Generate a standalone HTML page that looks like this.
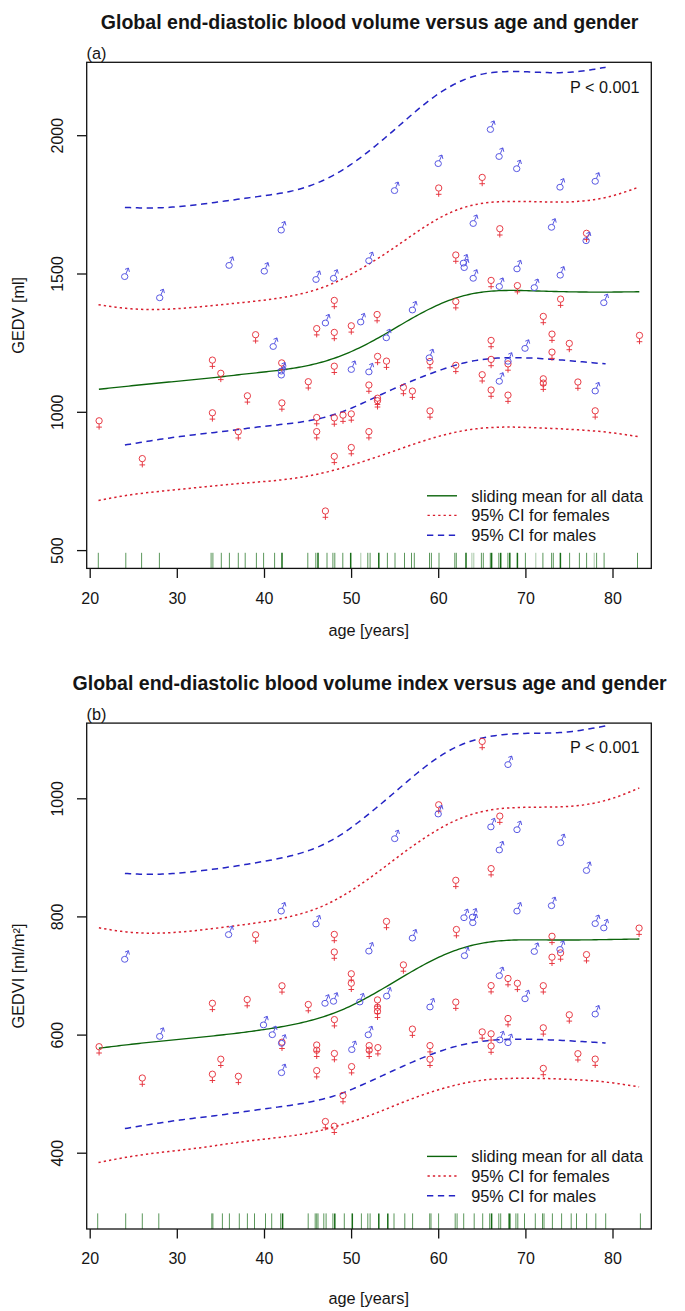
<!DOCTYPE html>
<html><head><meta charset="utf-8"><title>GEDV versus age and gender</title>
<style>
html,body{margin:0;padding:0;background:#fff;}
body{width:685px;height:1311px;overflow:hidden;}
svg{display:block;}
text{font-family:"Liberation Sans",sans-serif;fill:#151515;}
.title{font-weight:bold;font-size:19.56px;}
.lab{font-size:16.3px;}
.pv{font-size:16.2px;}
.tick{font-size:16px;}
.ax{stroke:#111;stroke-width:1.3;fill:none;}
</style></head>
<body>
<svg width="685" height="1311" viewBox="0 0 685 1311">
<rect width="685" height="1311" fill="#fff"/>
<text x="369.6" y="29.1" class="title" text-anchor="middle">Global end-diastolic blood volume versus age and gender</text>
<text x="86.6" y="59.3" class="lab">(a)</text>
<text x="570.0" y="92.5" class="pv">P &lt; 0.001</text>
<text transform="translate(24.4,315.3) rotate(-90)" class="lab" text-anchor="middle">GEDV [ml]</text>
<line x1="90.2" y1="568.4" x2="90.2" y2="577.9" class="ax"/>
<text x="90.2" y="603.5" class="tick" text-anchor="middle">20</text>
<line x1="177.3" y1="568.4" x2="177.3" y2="577.9" class="ax"/>
<text x="177.3" y="603.5" class="tick" text-anchor="middle">30</text>
<line x1="264.5" y1="568.4" x2="264.5" y2="577.9" class="ax"/>
<text x="264.5" y="603.5" class="tick" text-anchor="middle">40</text>
<line x1="351.6" y1="568.4" x2="351.6" y2="577.9" class="ax"/>
<text x="351.6" y="603.5" class="tick" text-anchor="middle">50</text>
<line x1="438.7" y1="568.4" x2="438.7" y2="577.9" class="ax"/>
<text x="438.7" y="603.5" class="tick" text-anchor="middle">60</text>
<line x1="525.9" y1="568.4" x2="525.9" y2="577.9" class="ax"/>
<text x="525.9" y="603.5" class="tick" text-anchor="middle">70</text>
<line x1="613.0" y1="568.4" x2="613.0" y2="577.9" class="ax"/>
<text x="613.0" y="603.5" class="tick" text-anchor="middle">80</text>
<text x="368.7" y="635.7" class="lab" text-anchor="middle">age [years]</text>
<line x1="86.7" y1="550.6" x2="77.0" y2="550.6" class="ax"/>
<text transform="translate(63.4,550.6) rotate(-90)" class="tick" text-anchor="middle">500</text>
<line x1="86.7" y1="412.3" x2="77.0" y2="412.3" class="ax"/>
<text transform="translate(63.4,412.3) rotate(-90)" class="tick" text-anchor="middle">1000</text>
<line x1="86.7" y1="274.0" x2="77.0" y2="274.0" class="ax"/>
<text transform="translate(63.4,274.0) rotate(-90)" class="tick" text-anchor="middle">1500</text>
<line x1="86.7" y1="135.7" x2="77.0" y2="135.7" class="ax"/>
<text transform="translate(63.4,135.7) rotate(-90)" class="tick" text-anchor="middle">2000</text>
<line x1="98.3" y1="552.8" x2="98.3" y2="568.4" stroke="#0b640b" stroke-width="0.9" stroke-opacity="0.75"/>
<line x1="125.8" y1="552.8" x2="125.8" y2="568.4" stroke="#0b640b" stroke-width="0.9" stroke-opacity="0.75"/>
<line x1="141.6" y1="552.8" x2="141.6" y2="568.4" stroke="#0b640b" stroke-width="0.9" stroke-opacity="0.75"/>
<line x1="159.4" y1="552.8" x2="159.4" y2="568.4" stroke="#0b640b" stroke-width="0.9" stroke-opacity="0.75"/>
<line x1="211.1" y1="552.8" x2="211.1" y2="568.4" stroke="#0b640b" stroke-width="0.9" stroke-opacity="0.75"/>
<line x1="212.9" y1="552.8" x2="212.9" y2="568.4" stroke="#0b640b" stroke-width="0.9" stroke-opacity="0.75"/>
<line x1="221.3" y1="552.8" x2="221.3" y2="568.4" stroke="#0b640b" stroke-width="0.9" stroke-opacity="0.75"/>
<line x1="229.4" y1="552.8" x2="229.4" y2="568.4" stroke="#0b640b" stroke-width="0.9" stroke-opacity="0.75"/>
<line x1="238.3" y1="552.8" x2="238.3" y2="568.4" stroke="#0b640b" stroke-width="0.9" stroke-opacity="0.75"/>
<line x1="245.2" y1="552.8" x2="245.2" y2="568.4" stroke="#0b640b" stroke-width="0.9" stroke-opacity="0.75"/>
<line x1="256.4" y1="552.8" x2="256.4" y2="568.4" stroke="#0b640b" stroke-width="0.9" stroke-opacity="0.75"/>
<line x1="263.6" y1="552.8" x2="263.6" y2="568.4" stroke="#0b640b" stroke-width="0.9" stroke-opacity="0.75"/>
<line x1="274.6" y1="552.8" x2="274.6" y2="568.4" stroke="#0b640b" stroke-width="0.9" stroke-opacity="0.75"/>
<line x1="282.0" y1="552.8" x2="282.0" y2="568.4" stroke="#0b640b" stroke-width="1.5" stroke-opacity="0.95"/>
<line x1="307.8" y1="552.8" x2="307.8" y2="568.4" stroke="#0b640b" stroke-width="0.9" stroke-opacity="0.75"/>
<line x1="315.8" y1="552.8" x2="315.8" y2="568.4" stroke="#0b640b" stroke-width="0.9" stroke-opacity="0.75"/>
<line x1="318.0" y1="552.8" x2="318.0" y2="568.4" stroke="#0b640b" stroke-width="1.5" stroke-opacity="0.95"/>
<line x1="327.0" y1="552.8" x2="327.0" y2="568.4" stroke="#0b640b" stroke-width="0.9" stroke-opacity="0.75"/>
<line x1="332.9" y1="552.8" x2="332.9" y2="568.4" stroke="#0b640b" stroke-width="0.9" stroke-opacity="0.75"/>
<line x1="334.8" y1="552.8" x2="334.8" y2="568.4" stroke="#0b640b" stroke-width="0.9" stroke-opacity="0.75"/>
<line x1="342.8" y1="552.8" x2="342.8" y2="568.4" stroke="#0b640b" stroke-width="0.9" stroke-opacity="0.75"/>
<line x1="350.7" y1="552.8" x2="350.7" y2="568.4" stroke="#0b640b" stroke-width="1.5" stroke-opacity="0.95"/>
<line x1="360.8" y1="552.8" x2="360.8" y2="568.4" stroke="#0b640b" stroke-width="0.9" stroke-opacity="0.40"/>
<line x1="367.8" y1="552.8" x2="367.8" y2="568.4" stroke="#0b640b" stroke-width="0.9" stroke-opacity="0.75"/>
<line x1="370.1" y1="552.8" x2="370.1" y2="568.4" stroke="#0b640b" stroke-width="0.9" stroke-opacity="0.75"/>
<line x1="378.8" y1="552.8" x2="378.8" y2="568.4" stroke="#0b640b" stroke-width="1.5" stroke-opacity="0.95"/>
<line x1="387.4" y1="552.8" x2="387.4" y2="568.4" stroke="#0b640b" stroke-width="0.9" stroke-opacity="0.75"/>
<line x1="395.0" y1="552.8" x2="395.0" y2="568.4" stroke="#0b640b" stroke-width="0.9" stroke-opacity="0.75"/>
<line x1="404.5" y1="552.8" x2="404.5" y2="568.4" stroke="#0b640b" stroke-width="0.9" stroke-opacity="0.75"/>
<line x1="411.5" y1="552.8" x2="411.5" y2="568.4" stroke="#0b640b" stroke-width="0.9" stroke-opacity="0.75"/>
<line x1="414.3" y1="552.8" x2="414.3" y2="568.4" stroke="#0b640b" stroke-width="0.9" stroke-opacity="0.75"/>
<line x1="429.5" y1="552.8" x2="429.5" y2="568.4" stroke="#0b640b" stroke-width="0.9" stroke-opacity="0.75"/>
<line x1="431.4" y1="552.8" x2="431.4" y2="568.4" stroke="#0b640b" stroke-width="0.9" stroke-opacity="0.75"/>
<line x1="439.0" y1="552.8" x2="439.0" y2="568.4" stroke="#0b640b" stroke-width="0.9" stroke-opacity="0.75"/>
<line x1="454.8" y1="552.8" x2="454.8" y2="568.4" stroke="#0b640b" stroke-width="0.9" stroke-opacity="0.75"/>
<line x1="456.3" y1="552.8" x2="456.3" y2="568.4" stroke="#0b640b" stroke-width="0.9" stroke-opacity="0.75"/>
<line x1="466.0" y1="552.8" x2="466.0" y2="568.4" stroke="#0b640b" stroke-width="1.5" stroke-opacity="0.95"/>
<line x1="471.9" y1="552.8" x2="471.9" y2="568.4" stroke="#0b640b" stroke-width="0.9" stroke-opacity="0.40"/>
<line x1="473.8" y1="552.8" x2="473.8" y2="568.4" stroke="#0b640b" stroke-width="0.9" stroke-opacity="0.40"/>
<line x1="481.4" y1="552.8" x2="481.4" y2="568.4" stroke="#0b640b" stroke-width="0.9" stroke-opacity="0.75"/>
<line x1="483.3" y1="552.8" x2="483.3" y2="568.4" stroke="#0b640b" stroke-width="0.9" stroke-opacity="0.75"/>
<line x1="490.3" y1="552.8" x2="490.3" y2="568.4" stroke="#0b640b" stroke-width="0.9" stroke-opacity="0.75"/>
<line x1="491.6" y1="552.8" x2="491.6" y2="568.4" stroke="#0b640b" stroke-width="1.5" stroke-opacity="0.95"/>
<line x1="498.8" y1="552.8" x2="498.8" y2="568.4" stroke="#0b640b" stroke-width="0.9" stroke-opacity="0.75"/>
<line x1="500.7" y1="552.8" x2="500.7" y2="568.4" stroke="#0b640b" stroke-width="1.5" stroke-opacity="0.95"/>
<line x1="507.9" y1="552.8" x2="507.9" y2="568.4" stroke="#0b640b" stroke-width="0.9" stroke-opacity="0.75"/>
<line x1="509.8" y1="552.8" x2="509.8" y2="568.4" stroke="#0b640b" stroke-width="1.5" stroke-opacity="0.95"/>
<line x1="517.4" y1="552.8" x2="517.4" y2="568.4" stroke="#0b640b" stroke-width="1.5" stroke-opacity="0.95"/>
<line x1="525.4" y1="552.8" x2="525.4" y2="568.4" stroke="#0b640b" stroke-width="0.9" stroke-opacity="0.75"/>
<line x1="535.8" y1="552.8" x2="535.8" y2="568.4" stroke="#0b640b" stroke-width="0.9" stroke-opacity="0.40"/>
<line x1="542.9" y1="552.8" x2="542.9" y2="568.4" stroke="#0b640b" stroke-width="0.9" stroke-opacity="0.75"/>
<line x1="551.6" y1="552.8" x2="551.6" y2="568.4" stroke="#0b640b" stroke-width="0.9" stroke-opacity="0.75"/>
<line x1="553.3" y1="552.8" x2="553.3" y2="568.4" stroke="#0b640b" stroke-width="0.9" stroke-opacity="0.75"/>
<line x1="560.4" y1="552.8" x2="560.4" y2="568.4" stroke="#0b640b" stroke-width="1.5" stroke-opacity="0.95"/>
<line x1="569.6" y1="552.8" x2="569.6" y2="568.4" stroke="#0b640b" stroke-width="0.9" stroke-opacity="0.75"/>
<line x1="579.4" y1="552.8" x2="579.4" y2="568.4" stroke="#0b640b" stroke-width="0.9" stroke-opacity="0.75"/>
<line x1="586.6" y1="552.8" x2="586.6" y2="568.4" stroke="#0b640b" stroke-width="0.9" stroke-opacity="0.75"/>
<line x1="594.2" y1="552.8" x2="594.2" y2="568.4" stroke="#0b640b" stroke-width="0.9" stroke-opacity="0.40"/>
<line x1="596.6" y1="552.8" x2="596.6" y2="568.4" stroke="#0b640b" stroke-width="0.9" stroke-opacity="0.75"/>
<line x1="604.1" y1="552.8" x2="604.1" y2="568.4" stroke="#0b640b" stroke-width="0.9" stroke-opacity="0.75"/>
<line x1="637.5" y1="552.8" x2="637.5" y2="568.4" stroke="#0b640b" stroke-width="0.9" stroke-opacity="0.75"/>
<g fill="none" stroke-width="1.5">
<path d="M98.5,304.75 L101.0,305.13 L103.5,305.51 L106.0,305.88 L108.5,306.25 L111.0,306.60 L113.5,306.94 L116.0,307.26 L118.5,307.56 L121.0,307.85 L123.5,308.12 L126.0,308.36 L128.5,308.58 L131.0,308.79 L133.5,308.96 L136.0,309.11 L138.5,309.24 L141.0,309.35 L143.5,309.43 L146.0,309.49 L148.5,309.53 L151.0,309.55 L153.5,309.55 L156.0,309.52 L158.5,309.48 L161.0,309.42 L163.5,309.34 L166.0,309.25 L168.5,309.14 L171.0,309.01 L173.5,308.87 L176.0,308.72 L178.5,308.56 L181.0,308.39 L183.5,308.21 L186.0,308.02 L188.5,307.82 L191.0,307.61 L193.5,307.40 L196.0,307.18 L198.5,306.95 L201.0,306.72 L203.5,306.49 L206.0,306.25 L208.5,306.00 L211.0,305.75 L213.5,305.50 L216.0,305.24 L218.5,304.99 L221.0,304.73 L223.5,304.47 L226.0,304.20 L228.5,303.95 L231.0,303.69 L233.5,303.43 L236.0,303.17 L238.5,302.92 L241.0,302.66 L243.5,302.40 L246.0,302.14 L248.5,301.89 L251.0,301.62 L253.5,301.36 L256.0,301.09 L258.5,300.81 L261.0,300.52 L263.5,300.22 L266.0,299.91 L268.5,299.59 L271.0,299.25 L273.5,298.90 L276.0,298.53 L278.5,298.15 L281.0,297.75 L283.5,297.34 L286.0,296.90 L288.5,296.44 L291.0,295.97 L293.5,295.47 L296.0,294.95 L298.5,294.41 L301.0,293.84 L303.5,293.25 L306.0,292.62 L308.5,291.96 L311.0,291.27 L313.5,290.54 L316.0,289.77 L318.5,288.96 L321.0,288.11 L323.5,287.21 L326.0,286.26 L328.5,285.26 L331.0,284.21 L333.5,283.12 L336.0,281.99 L338.5,280.82 L341.0,279.61 L343.5,278.36 L346.0,277.08 L348.5,275.77 L351.0,274.42 L353.5,273.05 L356.0,271.65 L358.5,270.23 L361.0,268.78 L363.5,267.31 L366.0,265.82 L368.5,264.30 L371.0,262.77 L373.5,261.21 L376.0,259.64 L378.5,258.04 L381.0,256.43 L383.5,254.79 L386.0,253.15 L388.5,251.48 L391.0,249.80 L393.5,248.11 L396.0,246.40 L398.5,244.69 L401.0,242.96 L403.5,241.24 L406.0,239.51 L408.5,237.78 L411.0,236.06 L413.5,234.35 L416.0,232.66 L418.5,230.97 L421.0,229.31 L423.5,227.67 L426.0,226.06 L428.5,224.48 L431.0,222.93 L433.5,221.42 L436.0,219.96 L438.5,218.54 L441.0,217.18 L443.5,215.87 L446.0,214.62 L448.5,213.43 L451.0,212.31 L453.5,211.24 L456.0,210.24 L458.5,209.30 L461.0,208.43 L463.5,207.62 L466.0,206.87 L468.5,206.18 L471.0,205.55 L473.5,204.98 L476.0,204.46 L478.5,203.99 L481.0,203.57 L483.5,203.20 L486.0,202.87 L488.5,202.58 L491.0,202.33 L493.5,202.11 L496.0,201.93 L498.5,201.78 L501.0,201.65 L503.5,201.55 L506.0,201.48 L508.5,201.42 L511.0,201.39 L513.5,201.38 L516.0,201.38 L518.5,201.39 L521.0,201.42 L523.5,201.46 L526.0,201.50 L528.5,201.55 L531.0,201.61 L533.5,201.66 L536.0,201.72 L538.5,201.78 L541.0,201.84 L543.5,201.89 L546.0,201.94 L548.5,201.98 L551.0,202.01 L553.5,202.04 L556.0,202.05 L558.5,202.05 L561.0,202.03 L563.5,202.00 L566.0,201.95 L568.5,201.88 L571.0,201.78 L573.5,201.67 L576.0,201.53 L578.5,201.36 L581.0,201.17 L583.5,200.95 L586.0,200.70 L588.5,200.41 L591.0,200.09 L593.5,199.74 L596.0,199.35 L598.5,198.92 L601.0,198.46 L603.5,197.95 L606.0,197.41 L608.5,196.82 L611.0,196.19 L613.5,195.52 L616.0,194.82 L618.5,194.08 L621.0,193.30 L623.5,192.50 L626.0,191.66 L628.5,190.80 L631.0,189.92 L633.5,189.03 L636.0,188.13 L638.5,187.21 L639.1,187.00" stroke="#d81e2e" stroke-dasharray="2.3 3.05"/>
<path d="M98.5,500.55 L101.0,500.04 L103.5,499.53 L106.0,499.04 L108.5,498.54 L111.0,498.07 L113.5,497.60 L116.0,497.15 L118.5,496.71 L121.0,496.29 L123.5,495.89 L126.0,495.50 L128.5,495.12 L131.0,494.76 L133.5,494.41 L136.0,494.07 L138.5,493.75 L141.0,493.43 L143.5,493.13 L146.0,492.83 L148.5,492.54 L151.0,492.26 L153.5,491.98 L156.0,491.71 L158.5,491.44 L161.0,491.18 L163.5,490.92 L166.0,490.66 L168.5,490.40 L171.0,490.15 L173.5,489.90 L176.0,489.65 L178.5,489.40 L181.0,489.15 L183.5,488.90 L186.0,488.65 L188.5,488.41 L191.0,488.16 L193.5,487.91 L196.0,487.67 L198.5,487.42 L201.0,487.17 L203.5,486.93 L206.0,486.68 L208.5,486.43 L211.0,486.18 L213.5,485.94 L216.0,485.69 L218.5,485.44 L221.0,485.20 L223.5,484.96 L226.0,484.72 L228.5,484.49 L231.0,484.26 L233.5,484.04 L236.0,483.82 L238.5,483.61 L241.0,483.40 L243.5,483.19 L246.0,482.99 L248.5,482.79 L251.0,482.59 L253.5,482.39 L256.0,482.18 L258.5,481.98 L261.0,481.78 L263.5,481.57 L266.0,481.36 L268.5,481.14 L271.0,480.92 L273.5,480.68 L276.0,480.44 L278.5,480.19 L281.0,479.92 L283.5,479.64 L286.0,479.35 L288.5,479.04 L291.0,478.72 L293.5,478.38 L296.0,478.03 L298.5,477.65 L301.0,477.26 L303.5,476.86 L306.0,476.43 L308.5,475.98 L311.0,475.51 L313.5,475.02 L316.0,474.51 L318.5,473.98 L321.0,473.42 L323.5,472.84 L326.0,472.25 L328.5,471.63 L331.0,470.99 L333.5,470.33 L336.0,469.66 L338.5,468.97 L341.0,468.26 L343.5,467.54 L346.0,466.81 L348.5,466.06 L351.0,465.31 L353.5,464.54 L356.0,463.76 L358.5,462.97 L361.0,462.18 L363.5,461.37 L366.0,460.56 L368.5,459.74 L371.0,458.92 L373.5,458.08 L376.0,457.24 L378.5,456.39 L381.0,455.54 L383.5,454.68 L386.0,453.81 L388.5,452.94 L391.0,452.07 L393.5,451.19 L396.0,450.31 L398.5,449.43 L401.0,448.56 L403.5,447.68 L406.0,446.81 L408.5,445.94 L411.0,445.08 L413.5,444.23 L416.0,443.39 L418.5,442.55 L421.0,441.73 L423.5,440.92 L426.0,440.13 L428.5,439.35 L431.0,438.58 L433.5,437.84 L436.0,437.11 L438.5,436.40 L441.0,435.72 L443.5,435.05 L446.0,434.42 L448.5,433.80 L451.0,433.21 L453.5,432.65 L456.0,432.11 L458.5,431.60 L461.0,431.12 L463.5,430.67 L466.0,430.25 L468.5,429.85 L471.0,429.48 L473.5,429.14 L476.0,428.83 L478.5,428.54 L481.0,428.29 L483.5,428.05 L486.0,427.85 L488.5,427.67 L491.0,427.52 L493.5,427.39 L496.0,427.29 L498.5,427.21 L501.0,427.15 L503.5,427.11 L506.0,427.09 L508.5,427.08 L511.0,427.10 L513.5,427.12 L516.0,427.16 L518.5,427.21 L521.0,427.27 L523.5,427.34 L526.0,427.41 L528.5,427.50 L531.0,427.58 L533.5,427.67 L536.0,427.76 L538.5,427.86 L541.0,427.96 L543.5,428.07 L546.0,428.17 L548.5,428.28 L551.0,428.39 L553.5,428.51 L556.0,428.62 L558.5,428.74 L561.0,428.87 L563.5,428.99 L566.0,429.12 L568.5,429.26 L571.0,429.40 L573.5,429.54 L576.0,429.69 L578.5,429.84 L581.0,430.00 L583.5,430.17 L586.0,430.35 L588.5,430.53 L591.0,430.73 L593.5,430.93 L596.0,431.15 L598.5,431.37 L601.0,431.61 L603.5,431.86 L606.0,432.13 L608.5,432.41 L611.0,432.71 L613.5,433.02 L616.0,433.34 L618.5,433.68 L621.0,434.03 L623.5,434.39 L626.0,434.75 L628.5,435.12 L631.0,435.50 L633.5,435.88 L636.0,436.26 L638.5,436.64 L639.1,436.74" stroke="#d81e2e" stroke-dasharray="2.3 3.05"/>
<path d="M124.9,207.41 L127.4,207.50 L129.9,207.59 L132.4,207.68 L134.9,207.76 L137.4,207.83 L139.9,207.89 L142.4,207.93 L144.9,207.96 L147.4,207.98 L149.9,207.98 L152.4,207.96 L154.9,207.92 L157.4,207.86 L159.9,207.79 L162.4,207.69 L164.9,207.58 L167.4,207.45 L169.9,207.29 L172.4,207.12 L174.9,206.94 L177.4,206.74 L179.9,206.52 L182.4,206.28 L184.9,206.04 L187.4,205.78 L189.9,205.50 L192.4,205.22 L194.9,204.93 L197.4,204.63 L199.9,204.33 L202.4,204.01 L204.9,203.70 L207.4,203.38 L209.9,203.05 L212.4,202.73 L214.9,202.40 L217.4,202.07 L219.9,201.73 L222.4,201.40 L224.9,201.06 L227.4,200.72 L229.9,200.37 L232.4,200.03 L234.9,199.68 L237.4,199.34 L239.9,198.99 L242.4,198.65 L244.9,198.30 L247.4,197.96 L249.9,197.62 L252.4,197.28 L254.9,196.95 L257.4,196.62 L259.9,196.29 L262.4,195.95 L264.9,195.62 L267.4,195.27 L269.9,194.92 L272.4,194.55 L274.9,194.17 L277.4,193.78 L279.9,193.36 L282.4,192.92 L284.9,192.45 L287.4,191.96 L289.9,191.43 L292.4,190.87 L294.9,190.27 L297.4,189.64 L299.9,188.96 L302.4,188.24 L304.9,187.47 L307.4,186.65 L309.9,185.79 L312.4,184.87 L314.9,183.91 L317.4,182.90 L319.9,181.84 L322.4,180.73 L324.9,179.57 L327.4,178.36 L329.9,177.10 L332.4,175.79 L334.9,174.44 L337.4,173.03 L339.9,171.57 L342.4,170.06 L344.9,168.49 L347.4,166.88 L349.9,165.21 L352.4,163.50 L354.9,161.73 L357.4,159.92 L359.9,158.07 L362.4,156.18 L364.9,154.26 L367.4,152.32 L369.9,150.35 L372.4,148.35 L374.9,146.33 L377.4,144.28 L379.9,142.22 L382.4,140.12 L384.9,138.01 L387.4,135.88 L389.9,133.74 L392.4,131.57 L394.9,129.40 L397.4,127.22 L399.9,125.03 L402.4,122.84 L404.9,120.65 L407.4,118.47 L409.9,116.30 L412.4,114.15 L414.9,112.02 L417.4,109.91 L419.9,107.84 L422.4,105.80 L424.9,103.80 L427.4,101.84 L429.9,99.93 L432.4,98.07 L434.9,96.26 L437.4,94.51 L439.9,92.81 L442.4,91.18 L444.9,89.60 L447.4,88.09 L449.9,86.65 L452.4,85.27 L454.9,83.96 L457.4,82.73 L459.9,81.56 L462.4,80.45 L464.9,79.42 L467.4,78.46 L469.9,77.57 L472.4,76.74 L474.9,75.99 L477.4,75.30 L479.9,74.68 L482.4,74.12 L484.9,73.63 L487.4,73.21 L489.9,72.84 L492.4,72.52 L494.9,72.26 L497.4,72.04 L499.9,71.87 L502.4,71.74 L504.9,71.64 L507.4,71.57 L509.9,71.53 L512.4,71.52 L514.9,71.54 L517.4,71.57 L519.9,71.62 L522.4,71.69 L524.9,71.77 L527.4,71.86 L529.9,71.96 L532.4,72.06 L534.9,72.16 L537.4,72.26 L539.9,72.36 L542.4,72.45 L544.9,72.52 L547.4,72.59 L549.9,72.64 L552.4,72.67 L554.9,72.68 L557.4,72.67 L559.9,72.64 L562.4,72.58 L564.9,72.49 L567.4,72.38 L569.9,72.23 L572.4,72.04 L574.9,71.83 L577.4,71.59 L579.9,71.31 L582.4,71.01 L584.9,70.69 L587.4,70.34 L589.9,69.97 L592.4,69.57 L594.9,69.16 L597.4,68.73 L599.9,68.29 L602.4,67.84 L604.9,67.39 L605.6,67.26" stroke="#2424c4" stroke-dasharray="6.3 4.6"/>
<path d="M124.9,445.00 L127.4,444.58 L129.9,444.15 L132.4,443.73 L134.9,443.31 L137.4,442.90 L139.9,442.49 L142.4,442.08 L144.9,441.68 L147.4,441.28 L149.9,440.89 L152.4,440.50 L154.9,440.11 L157.4,439.73 L159.9,439.36 L162.4,438.99 L164.9,438.63 L167.4,438.27 L169.9,437.92 L172.4,437.57 L174.9,437.23 L177.4,436.90 L179.9,436.57 L182.4,436.25 L184.9,435.93 L187.4,435.62 L189.9,435.31 L192.4,435.01 L194.9,434.71 L197.4,434.42 L199.9,434.12 L202.4,433.83 L204.9,433.54 L207.4,433.26 L209.9,432.97 L212.4,432.67 L214.9,432.38 L217.4,432.09 L219.9,431.79 L222.4,431.49 L224.9,431.19 L227.4,430.89 L229.9,430.58 L232.4,430.27 L234.9,429.95 L237.4,429.63 L239.9,429.31 L242.4,428.99 L244.9,428.67 L247.4,428.34 L249.9,428.02 L252.4,427.71 L254.9,427.40 L257.4,427.10 L259.9,426.81 L262.4,426.52 L264.9,426.24 L267.4,425.97 L269.9,425.69 L272.4,425.42 L274.9,425.15 L277.4,424.88 L279.9,424.61 L282.4,424.33 L284.9,424.05 L287.4,423.77 L289.9,423.47 L292.4,423.17 L294.9,422.85 L297.4,422.52 L299.9,422.17 L302.4,421.81 L304.9,421.41 L307.4,421.00 L309.9,420.55 L312.4,420.08 L314.9,419.58 L317.4,419.04 L319.9,418.48 L322.4,417.87 L324.9,417.23 L327.4,416.56 L329.9,415.84 L332.4,415.09 L334.9,414.30 L337.4,413.47 L339.9,412.60 L342.4,411.70 L344.9,410.75 L347.4,409.78 L349.9,408.76 L352.4,407.72 L354.9,406.65 L357.4,405.55 L359.9,404.43 L362.4,403.28 L364.9,402.13 L367.4,400.97 L369.9,399.80 L372.4,398.63 L374.9,397.46 L377.4,396.30 L379.9,395.13 L382.4,393.98 L384.9,392.82 L387.4,391.68 L389.9,390.55 L392.4,389.42 L394.9,388.30 L397.4,387.20 L399.9,386.10 L402.4,385.01 L404.9,383.93 L407.4,382.87 L409.9,381.81 L412.4,380.77 L414.9,379.74 L417.4,378.72 L419.9,377.72 L422.4,376.74 L424.9,375.77 L427.4,374.82 L429.9,373.88 L432.4,372.96 L434.9,372.05 L437.4,371.15 L439.9,370.27 L442.4,369.41 L444.9,368.56 L447.4,367.74 L449.9,366.93 L452.4,366.15 L454.9,365.40 L457.4,364.68 L459.9,363.98 L462.4,363.32 L464.9,362.70 L467.4,362.12 L469.9,361.58 L472.4,361.08 L474.9,360.62 L477.4,360.19 L479.9,359.81 L482.4,359.46 L484.9,359.15 L487.4,358.88 L489.9,358.63 L492.4,358.42 L494.9,358.24 L497.4,358.09 L499.9,357.96 L502.4,357.86 L504.9,357.78 L507.4,357.72 L509.9,357.68 L512.4,357.66 L514.9,357.67 L517.4,357.68 L519.9,357.72 L522.4,357.77 L524.9,357.84 L527.4,357.92 L529.9,358.01 L532.4,358.12 L534.9,358.23 L537.4,358.36 L539.9,358.50 L542.4,358.65 L544.9,358.80 L547.4,358.97 L549.9,359.14 L552.4,359.32 L554.9,359.51 L557.4,359.70 L559.9,359.89 L562.4,360.10 L564.9,360.30 L567.4,360.51 L569.9,360.72 L572.4,360.94 L574.9,361.16 L577.4,361.37 L579.9,361.59 L582.4,361.81 L584.9,362.04 L587.4,362.26 L589.9,362.48 L592.4,362.69 L594.9,362.91 L597.4,363.13 L599.9,363.34 L602.4,363.56 L604.9,363.77 L605.6,363.83" stroke="#2424c4" stroke-dasharray="6.3 4.6"/>
<path d="M98.9,389.28 L101.4,389.01 L103.9,388.73 L106.4,388.46 L108.9,388.19 L111.4,387.92 L113.9,387.65 L116.4,387.38 L118.9,387.11 L121.4,386.84 L123.9,386.57 L126.4,386.31 L128.9,386.05 L131.4,385.78 L133.9,385.52 L136.4,385.27 L138.9,385.01 L141.4,384.76 L143.9,384.50 L146.4,384.25 L148.9,384.00 L151.4,383.75 L153.9,383.51 L156.4,383.26 L158.9,383.02 L161.4,382.77 L163.9,382.53 L166.4,382.28 L168.9,382.04 L171.4,381.80 L173.9,381.56 L176.4,381.32 L178.9,381.08 L181.4,380.84 L183.9,380.59 L186.4,380.35 L188.9,380.11 L191.4,379.87 L193.9,379.62 L196.4,379.37 L198.9,379.13 L201.4,378.88 L203.9,378.63 L206.4,378.37 L208.9,378.12 L211.4,377.85 L213.9,377.58 L216.4,377.31 L218.9,377.03 L221.4,376.75 L223.9,376.47 L226.4,376.18 L228.9,375.89 L231.4,375.60 L233.9,375.31 L236.4,375.02 L238.9,374.73 L241.4,374.45 L243.9,374.17 L246.4,373.89 L248.9,373.61 L251.4,373.34 L253.9,373.07 L256.4,372.80 L258.9,372.54 L261.4,372.27 L263.9,372.00 L266.4,371.72 L268.9,371.44 L271.4,371.16 L273.9,370.87 L276.4,370.57 L278.9,370.26 L281.4,369.94 L283.9,369.60 L286.4,369.26 L288.9,368.90 L291.4,368.52 L293.9,368.13 L296.4,367.71 L298.9,367.28 L301.4,366.82 L303.9,366.35 L306.4,365.84 L308.9,365.31 L311.4,364.76 L313.9,364.18 L316.4,363.56 L318.9,362.92 L321.4,362.24 L323.9,361.53 L326.4,360.79 L328.9,360.02 L331.4,359.22 L333.9,358.37 L336.4,357.50 L338.9,356.59 L341.4,355.64 L343.9,354.66 L346.4,353.65 L348.9,352.59 L351.4,351.50 L353.9,350.38 L356.4,349.23 L358.9,348.04 L361.4,346.83 L363.9,345.58 L366.4,344.31 L368.9,343.00 L371.4,341.68 L373.9,340.33 L376.4,338.95 L378.9,337.56 L381.4,336.15 L383.9,334.72 L386.4,333.28 L388.9,331.83 L391.4,330.36 L393.9,328.89 L396.4,327.42 L398.9,325.95 L401.4,324.47 L403.9,323.00 L406.4,321.54 L408.9,320.10 L411.4,318.66 L413.9,317.25 L416.4,315.85 L418.9,314.48 L421.4,313.14 L423.9,311.81 L426.4,310.52 L428.9,309.26 L431.4,308.03 L433.9,306.83 L436.4,305.67 L438.9,304.55 L441.4,303.47 L443.9,302.43 L446.4,301.43 L448.9,300.47 L451.4,299.56 L453.9,298.70 L456.4,297.88 L458.9,297.10 L461.4,296.38 L463.9,295.70 L466.4,295.07 L468.9,294.48 L471.4,293.94 L473.9,293.44 L476.4,292.99 L478.9,292.59 L481.4,292.22 L483.9,291.90 L486.4,291.62 L488.9,291.37 L491.4,291.15 L493.9,290.97 L496.4,290.82 L498.9,290.69 L501.4,290.59 L503.9,290.52 L506.4,290.47 L508.9,290.44 L511.4,290.43 L513.9,290.43 L516.4,290.46 L518.9,290.49 L521.4,290.54 L523.9,290.60 L526.4,290.66 L528.9,290.73 L531.4,290.80 L533.9,290.88 L536.4,290.96 L538.9,291.03 L541.4,291.11 L543.9,291.19 L546.4,291.26 L548.9,291.33 L551.4,291.39 L553.9,291.46 L556.4,291.52 L558.9,291.58 L561.4,291.64 L563.9,291.70 L566.4,291.75 L568.9,291.80 L571.4,291.84 L573.9,291.89 L576.4,291.93 L578.9,291.96 L581.4,291.99 L583.9,292.02 L586.4,292.04 L588.9,292.06 L591.4,292.07 L593.9,292.08 L596.4,292.09 L598.9,292.09 L601.4,292.09 L603.9,292.09 L606.4,292.08 L608.9,292.07 L611.4,292.05 L613.9,292.04 L616.4,292.01 L618.9,291.99 L621.4,291.96 L623.9,291.94 L626.4,291.91 L628.9,291.88 L631.4,291.84 L633.9,291.81 L636.4,291.78 L638.9,291.74 L639.3,291.74" stroke="#0b640b" stroke-width="1.35"/>
</g>
<g fill="none" stroke="#e6323c" stroke-width="0.95">
<circle cx="99.1" cy="420.8" r="3.15"/><path d="M99.1,423.9 L99.1,429.6 M96.3,427.1 L101.9,427.1"/>
<circle cx="142.3" cy="458.6" r="3.15"/><path d="M142.3,461.7 L142.3,467.4 M139.5,464.9 L145.1,464.9"/>
<circle cx="212.4" cy="360.1" r="3.15"/><path d="M212.4,363.2 L212.4,368.9 M209.6,366.4 L215.2,366.4"/>
<circle cx="220.8" cy="373.3" r="3.15"/><path d="M220.8,376.4 L220.8,382.1 M218.0,379.6 L223.6,379.6"/>
<circle cx="212.4" cy="412.8" r="3.15"/><path d="M212.4,415.9 L212.4,421.6 M209.6,419.1 L215.2,419.1"/>
<circle cx="238.3" cy="431.7" r="3.15"/><path d="M238.3,434.8 L238.3,440.5 M235.5,438.0 L241.1,438.0"/>
<circle cx="247.4" cy="395.8" r="3.15"/><path d="M247.4,398.9 L247.4,404.6 M244.6,402.1 L250.2,402.1"/>
<circle cx="255.6" cy="334.7" r="3.15"/><path d="M255.6,337.8 L255.6,343.5 M252.8,341.0 L258.4,341.0"/>
<circle cx="281.7" cy="362.9" r="3.15"/><path d="M281.7,366.0 L281.7,371.7 M278.9,369.2 L284.5,369.2"/>
<circle cx="281.9" cy="402.9" r="3.15"/><path d="M281.9,406.0 L281.9,411.7 M279.1,409.2 L284.7,409.2"/>
<circle cx="334.3" cy="300.4" r="3.15"/><path d="M334.3,303.5 L334.3,309.2 M331.5,306.7 L337.1,306.7"/>
<circle cx="377.1" cy="314.5" r="3.15"/><path d="M377.1,317.6 L377.1,323.3 M374.3,320.8 L379.9,320.8"/>
<circle cx="316.7" cy="328.6" r="3.15"/><path d="M316.7,331.7 L316.7,337.4 M313.9,334.9 L319.5,334.9"/>
<circle cx="334.3" cy="332.4" r="3.15"/><path d="M334.3,335.5 L334.3,341.2 M331.5,338.7 L337.1,338.7"/>
<circle cx="351.3" cy="325.8" r="3.15"/><path d="M351.3,328.9 L351.3,334.6 M348.5,332.1 L354.1,332.1"/>
<circle cx="334.3" cy="366.2" r="3.15"/><path d="M334.3,369.3 L334.3,375.0 M331.5,372.5 L337.1,372.5"/>
<circle cx="308.3" cy="381.7" r="3.15"/><path d="M308.3,384.8 L308.3,390.5 M305.5,388.0 L311.1,388.0"/>
<circle cx="368.9" cy="385.0" r="3.15"/><path d="M368.9,388.1 L368.9,393.8 M366.1,391.3 L371.7,391.3"/>
<circle cx="377.5" cy="398.2" r="3.15"/><path d="M377.5,401.3 L377.5,407.0 M374.7,404.5 L380.3,404.5"/>
<circle cx="377.5" cy="400.7" r="3.15"/><path d="M377.5,403.8 L377.5,409.5 M374.7,407.0 L380.3,407.0"/>
<circle cx="316.7" cy="417.5" r="3.15"/><path d="M316.7,420.6 L316.7,426.3 M313.9,423.8 L319.5,423.8"/>
<circle cx="334.3" cy="417.9" r="3.15"/><path d="M334.3,421.0 L334.3,426.7 M331.5,424.2 L337.1,424.2"/>
<circle cx="343.0" cy="415.1" r="3.15"/><path d="M343.0,418.2 L343.0,423.9 M340.2,421.4 L345.8,421.4"/>
<circle cx="351.3" cy="413.9" r="3.15"/><path d="M351.3,417.0 L351.3,422.7 M348.5,420.2 L354.1,420.2"/>
<circle cx="316.7" cy="431.6" r="3.15"/><path d="M316.7,434.7 L316.7,440.4 M313.9,437.9 L319.5,437.9"/>
<circle cx="368.9" cy="431.6" r="3.15"/><path d="M368.9,434.7 L368.9,440.4 M366.1,437.9 L371.7,437.9"/>
<circle cx="351.3" cy="447.5" r="3.15"/><path d="M351.3,450.6 L351.3,456.3 M348.5,453.8 L354.1,453.8"/>
<circle cx="334.3" cy="456.3" r="3.15"/><path d="M334.3,459.4 L334.3,465.1 M331.5,462.6 L337.1,462.6"/>
<circle cx="325.4" cy="511.0" r="3.15"/><path d="M325.4,514.1 L325.4,519.8 M322.6,517.3 L328.2,517.3"/>
<circle cx="438.7" cy="188.0" r="3.15"/><path d="M438.7,191.2 L438.7,196.8 M435.9,194.3 L441.5,194.3"/>
<circle cx="482.2" cy="177.4" r="3.15"/><path d="M482.2,180.5 L482.2,186.2 M479.4,183.7 L485.0,183.7"/>
<circle cx="499.8" cy="228.7" r="3.15"/><path d="M499.8,231.8 L499.8,237.5 M497.0,235.0 L502.6,235.0"/>
<circle cx="455.8" cy="255.0" r="3.15"/><path d="M455.8,258.1 L455.8,263.8 M453.0,261.3 L458.6,261.3"/>
<circle cx="491.1" cy="280.4" r="3.15"/><path d="M491.1,283.5 L491.1,289.2 M488.3,286.7 L493.9,286.7"/>
<circle cx="517.4" cy="285.6" r="3.15"/><path d="M517.4,288.7 L517.4,294.4 M514.6,291.9 L520.2,291.9"/>
<circle cx="455.8" cy="301.6" r="3.15"/><path d="M455.8,304.7 L455.8,310.4 M453.0,307.9 L458.6,307.9"/>
<circle cx="377.6" cy="356.4" r="3.15"/><path d="M377.6,359.5 L377.6,365.2 M374.8,362.7 L380.4,362.7"/>
<circle cx="386.5" cy="361.1" r="3.15"/><path d="M386.5,364.2 L386.5,369.9 M383.7,367.4 L389.3,367.4"/>
<circle cx="430.0" cy="361.5" r="3.15"/><path d="M430.0,364.6 L430.0,370.3 M427.2,367.8 L432.8,367.8"/>
<circle cx="455.8" cy="365.3" r="3.15"/><path d="M455.8,368.4 L455.8,374.1 M453.0,371.6 L458.6,371.6"/>
<circle cx="491.1" cy="340.4" r="3.15"/><path d="M491.1,343.5 L491.1,349.2 M488.3,346.7 L493.9,346.7"/>
<circle cx="491.1" cy="359.4" r="3.15"/><path d="M491.1,362.5 L491.1,368.2 M488.3,365.7 L493.9,365.7"/>
<circle cx="508.0" cy="363.9" r="3.15"/><path d="M508.0,367.0 L508.0,372.7 M505.2,370.2 L510.8,370.2"/>
<circle cx="482.2" cy="374.7" r="3.15"/><path d="M482.2,377.8 L482.2,383.5 M479.4,381.0 L485.0,381.0"/>
<circle cx="491.1" cy="390.0" r="3.15"/><path d="M491.1,393.1 L491.1,398.8 M488.3,396.3 L493.9,396.3"/>
<circle cx="508.0" cy="395.1" r="3.15"/><path d="M508.0,398.2 L508.0,403.9 M505.2,401.4 L510.8,401.4"/>
<circle cx="403.4" cy="387.4" r="3.15"/><path d="M403.4,390.5 L403.4,396.2 M400.6,393.7 L406.2,393.7"/>
<circle cx="412.4" cy="391.1" r="3.15"/><path d="M412.4,394.2 L412.4,399.9 M409.6,397.4 L415.2,397.4"/>
<circle cx="430.0" cy="410.9" r="3.15"/><path d="M430.0,414.0 L430.0,419.7 M427.2,417.2 L432.8,417.2"/>
<circle cx="586.5" cy="233.3" r="3.15"/><path d="M586.5,236.4 L586.5,242.1 M583.7,239.6 L589.3,239.6"/>
<circle cx="560.6" cy="299.1" r="3.15"/><path d="M560.6,302.2 L560.6,307.9 M557.8,305.4 L563.4,305.4"/>
<circle cx="543.3" cy="316.4" r="3.15"/><path d="M543.3,319.5 L543.3,325.2 M540.5,322.7 L546.1,322.7"/>
<circle cx="552.0" cy="334.1" r="3.15"/><path d="M552.0,337.2 L552.0,342.9 M549.2,340.4 L554.8,340.4"/>
<circle cx="569.3" cy="343.4" r="3.15"/><path d="M569.3,346.5 L569.3,352.2 M566.5,349.7 L572.1,349.7"/>
<circle cx="639.5" cy="335.4" r="3.15"/><path d="M639.5,338.5 L639.5,344.2 M636.7,341.7 L642.3,341.7"/>
<circle cx="552.0" cy="352.1" r="3.15"/><path d="M552.0,355.2 L552.0,360.9 M549.2,358.4 L554.8,358.4"/>
<circle cx="543.3" cy="378.8" r="3.15"/><path d="M543.3,381.9 L543.3,387.6 M540.5,385.1 L546.1,385.1"/>
<circle cx="543.3" cy="383.1" r="3.15"/><path d="M543.3,386.2 L543.3,391.9 M540.5,389.4 L546.1,389.4"/>
<circle cx="577.9" cy="382.0" r="3.15"/><path d="M577.9,385.1 L577.9,390.8 M575.1,388.3 L580.7,388.3"/>
<circle cx="595.2" cy="410.8" r="3.15"/><path d="M595.2,413.9 L595.2,419.6 M592.4,417.1 L598.0,417.1"/>
</g>
<g fill="none" stroke="#5050e0" stroke-width="0.95">
<ellipse cx="124.7" cy="276.6" rx="3.2" ry="2.95"/><path d="M125.89,273.84 L128.40,268.00 M125.00,269.40 L128.40,268.00 L129.40,271.90"/>
<ellipse cx="159.7" cy="297.8" rx="3.2" ry="2.95"/><path d="M160.89,295.04 L163.40,289.20 M160.00,290.60 L163.40,289.20 L164.40,293.10"/>
<ellipse cx="229.1" cy="265.4" rx="3.2" ry="2.95"/><path d="M230.29,262.64 L232.80,256.80 M229.40,258.20 L232.80,256.80 L233.80,260.70"/>
<ellipse cx="281.2" cy="230.1" rx="3.2" ry="2.95"/><path d="M282.39,227.34 L284.90,221.50 M281.50,222.90 L284.90,221.50 L285.90,225.40"/>
<ellipse cx="264.3" cy="271.2" rx="3.2" ry="2.95"/><path d="M265.49,268.44 L268.00,262.60 M264.60,264.00 L268.00,262.60 L269.00,266.50"/>
<ellipse cx="316.0" cy="279.5" rx="3.2" ry="2.95"/><path d="M317.19,276.74 L319.70,270.90 M316.30,272.30 L319.70,270.90 L320.70,274.80"/>
<ellipse cx="333.6" cy="278.3" rx="3.2" ry="2.95"/><path d="M334.79,275.54 L337.30,269.70 M333.90,271.10 L337.30,269.70 L338.30,273.60"/>
<ellipse cx="368.9" cy="260.7" rx="3.2" ry="2.95"/><path d="M370.09,257.94 L372.60,252.10 M369.20,253.50 L372.60,252.10 L373.60,256.00"/>
<ellipse cx="325.4" cy="323.0" rx="3.2" ry="2.95"/><path d="M326.59,320.24 L329.10,314.40 M325.70,315.80 L329.10,314.40 L330.10,318.30"/>
<ellipse cx="360.7" cy="322.0" rx="3.2" ry="2.95"/><path d="M361.89,319.24 L364.40,313.40 M361.00,314.80 L364.40,313.40 L365.40,317.30"/>
<ellipse cx="273.2" cy="346.5" rx="3.2" ry="2.95"/><path d="M274.39,343.74 L276.90,337.90 M273.50,339.30 L276.90,337.90 L277.90,341.80"/>
<ellipse cx="281.3" cy="371.1" rx="3.2" ry="2.95"/><path d="M282.49,368.34 L285.00,362.50 M281.60,363.90 L285.00,362.50 L286.00,366.40"/>
<ellipse cx="281.3" cy="375.1" rx="3.2" ry="2.95"/><path d="M282.49,372.34 L285.00,366.50 M281.60,367.90 L285.00,366.50 L286.00,370.40"/>
<ellipse cx="351.3" cy="369.5" rx="3.2" ry="2.95"/><path d="M352.49,366.74 L355.00,360.90 M351.60,362.30 L355.00,360.90 L356.00,364.80"/>
<ellipse cx="368.9" cy="371.9" rx="3.2" ry="2.95"/><path d="M370.09,369.14 L372.60,363.30 M369.20,364.70 L372.60,363.30 L373.60,367.20"/>
<ellipse cx="490.4" cy="129.5" rx="3.2" ry="2.95"/><path d="M491.59,126.74 L494.10,120.90 M490.70,122.30 L494.10,120.90 L495.10,124.80"/>
<ellipse cx="499.1" cy="156.5" rx="3.2" ry="2.95"/><path d="M500.29,153.74 L502.80,147.90 M499.40,149.30 L502.80,147.90 L503.80,151.80"/>
<ellipse cx="516.7" cy="168.7" rx="3.2" ry="2.95"/><path d="M517.89,165.94 L520.40,160.10 M517.00,161.50 L520.40,160.10 L521.40,164.00"/>
<ellipse cx="438.2" cy="163.6" rx="3.2" ry="2.95"/><path d="M439.39,160.84 L441.90,155.00 M438.50,156.40 L441.90,155.00 L442.90,158.90"/>
<ellipse cx="394.5" cy="190.6" rx="3.2" ry="2.95"/><path d="M395.69,187.84 L398.20,182.00 M394.80,183.40 L398.20,182.00 L399.20,185.90"/>
<ellipse cx="473.2" cy="223.5" rx="3.2" ry="2.95"/><path d="M474.39,220.74 L476.90,214.90 M473.50,216.30 L476.90,214.90 L477.90,218.80"/>
<ellipse cx="463.4" cy="263.1" rx="3.2" ry="2.95"/><path d="M464.59,260.34 L467.10,254.50 M463.70,255.90 L467.10,254.50 L468.10,258.40"/>
<ellipse cx="464.2" cy="267.6" rx="3.2" ry="2.95"/><path d="M465.39,264.84 L467.90,259.00 M464.50,260.40 L467.90,259.00 L468.90,262.90"/>
<ellipse cx="473.2" cy="278.3" rx="3.2" ry="2.95"/><path d="M474.39,275.54 L476.90,269.70 M473.50,271.10 L476.90,269.70 L477.90,273.60"/>
<ellipse cx="499.3" cy="286.5" rx="3.2" ry="2.95"/><path d="M500.49,283.74 L503.00,277.90 M499.60,279.30 L503.00,277.90 L504.00,281.80"/>
<ellipse cx="517.0" cy="268.9" rx="3.2" ry="2.95"/><path d="M518.19,266.14 L520.70,260.30 M517.30,261.70 L520.70,260.30 L521.70,264.20"/>
<ellipse cx="412.4" cy="310.0" rx="3.2" ry="2.95"/><path d="M413.59,307.24 L416.10,301.40 M412.70,302.80 L416.10,301.40 L417.10,305.30"/>
<ellipse cx="386.3" cy="337.8" rx="3.2" ry="2.95"/><path d="M387.49,335.04 L390.00,329.20 M386.60,330.60 L390.00,329.20 L391.00,333.10"/>
<ellipse cx="429.3" cy="357.8" rx="3.2" ry="2.95"/><path d="M430.49,355.04 L433.00,349.20 M429.60,350.60 L433.00,349.20 L434.00,353.10"/>
<ellipse cx="508.0" cy="361.3" rx="3.2" ry="2.95"/><path d="M509.19,358.54 L511.70,352.70 M508.30,354.10 L511.70,352.70 L512.70,356.60"/>
<ellipse cx="499.3" cy="381.3" rx="3.2" ry="2.95"/><path d="M500.49,378.54 L503.00,372.70 M499.60,374.10 L503.00,372.70 L504.00,376.60"/>
<ellipse cx="525.0" cy="348.4" rx="3.2" ry="2.95"/><path d="M526.19,345.64 L528.70,339.80 M525.30,341.20 L528.70,339.80 L529.70,343.70"/>
<ellipse cx="560.0" cy="187.2" rx="3.2" ry="2.95"/><path d="M561.19,184.44 L563.70,178.60 M560.30,180.00 L563.70,178.60 L564.70,182.50"/>
<ellipse cx="595.2" cy="181.3" rx="3.2" ry="2.95"/><path d="M596.39,178.54 L598.90,172.70 M595.50,174.10 L598.90,172.70 L599.90,176.60"/>
<ellipse cx="551.5" cy="227.3" rx="3.2" ry="2.95"/><path d="M552.69,224.54 L555.20,218.70 M551.80,220.10 L555.20,218.70 L556.20,222.60"/>
<ellipse cx="586.1" cy="240.7" rx="3.2" ry="2.95"/><path d="M587.29,237.94 L589.80,232.10 M586.40,233.50 L589.80,232.10 L590.80,236.00"/>
<ellipse cx="534.3" cy="287.6" rx="3.2" ry="2.95"/><path d="M535.49,284.84 L538.00,279.00 M534.60,280.40 L538.00,279.00 L539.00,282.90"/>
<ellipse cx="560.2" cy="275.2" rx="3.2" ry="2.95"/><path d="M561.39,272.44 L563.90,266.60 M560.50,268.00 L563.90,266.60 L564.90,270.50"/>
<ellipse cx="603.8" cy="302.7" rx="3.2" ry="2.95"/><path d="M604.99,299.94 L607.50,294.10 M604.10,295.50 L607.50,294.10 L608.50,298.00"/>
<ellipse cx="595.2" cy="391.0" rx="3.2" ry="2.95"/><path d="M596.39,388.24 L598.90,382.40 M595.50,383.80 L598.90,382.40 L599.90,386.30"/>
</g>
<line x1="427" y1="495.8" x2="457" y2="495.8" stroke="#0b640b" stroke-width="1.4"/>
<line x1="427.5" y1="515.4" x2="457" y2="515.4" stroke="#d81e2e" stroke-width="1.4" stroke-dasharray="2.3 3.05"/>
<line x1="427" y1="535.2" x2="457" y2="535.2" stroke="#2424c4" stroke-width="1.4" stroke-dasharray="6.3 4.6"/>
<text x="471.2" y="501.5" class="lab">sliding mean for all data</text>
<text x="471.2" y="521.4" class="lab">95% CI for females</text>
<text x="471.2" y="541.3" class="lab">95% CI for males</text>
<rect x="86.7" y="62.3" width="564.6" height="506.1" class="ax" fill="none"/>
<text x="369.6" y="690.0" class="title" text-anchor="middle">Global end-diastolic blood volume index versus age and gender</text>
<text x="86.6" y="719.9" class="lab">(b)</text>
<text x="570.0" y="753.1" class="pv">P &lt; 0.001</text>
<text transform="translate(24.4,976.0) rotate(-90)" class="lab" text-anchor="middle">GEDVI [ml/m²]</text>
<line x1="90.2" y1="1229.0" x2="90.2" y2="1238.5" class="ax"/>
<text x="90.2" y="1264.1" class="tick" text-anchor="middle">20</text>
<line x1="177.3" y1="1229.0" x2="177.3" y2="1238.5" class="ax"/>
<text x="177.3" y="1264.1" class="tick" text-anchor="middle">30</text>
<line x1="264.5" y1="1229.0" x2="264.5" y2="1238.5" class="ax"/>
<text x="264.5" y="1264.1" class="tick" text-anchor="middle">40</text>
<line x1="351.6" y1="1229.0" x2="351.6" y2="1238.5" class="ax"/>
<text x="351.6" y="1264.1" class="tick" text-anchor="middle">50</text>
<line x1="438.7" y1="1229.0" x2="438.7" y2="1238.5" class="ax"/>
<text x="438.7" y="1264.1" class="tick" text-anchor="middle">60</text>
<line x1="525.9" y1="1229.0" x2="525.9" y2="1238.5" class="ax"/>
<text x="525.9" y="1264.1" class="tick" text-anchor="middle">70</text>
<line x1="613.0" y1="1229.0" x2="613.0" y2="1238.5" class="ax"/>
<text x="613.0" y="1264.1" class="tick" text-anchor="middle">80</text>
<text x="368.7" y="1303.7" class="lab" text-anchor="middle">age [years]</text>
<line x1="86.7" y1="1153.2" x2="77.0" y2="1153.2" class="ax"/>
<text transform="translate(63.4,1153.2) rotate(-90)" class="tick" text-anchor="middle">400</text>
<line x1="86.7" y1="1035.1" x2="77.0" y2="1035.1" class="ax"/>
<text transform="translate(63.4,1035.1) rotate(-90)" class="tick" text-anchor="middle">600</text>
<line x1="86.7" y1="916.9" x2="77.0" y2="916.9" class="ax"/>
<text transform="translate(63.4,916.9) rotate(-90)" class="tick" text-anchor="middle">800</text>
<line x1="86.7" y1="798.8" x2="77.0" y2="798.8" class="ax"/>
<text transform="translate(63.4,798.8) rotate(-90)" class="tick" text-anchor="middle">1000</text>
<line x1="97.7" y1="1213.4" x2="97.7" y2="1229.0" stroke="#0b640b" stroke-width="0.9" stroke-opacity="0.75"/>
<line x1="125.7" y1="1213.4" x2="125.7" y2="1229.0" stroke="#0b640b" stroke-width="0.9" stroke-opacity="0.75"/>
<line x1="142.3" y1="1213.4" x2="142.3" y2="1229.0" stroke="#0b640b" stroke-width="0.9" stroke-opacity="0.75"/>
<line x1="158.8" y1="1213.4" x2="158.8" y2="1229.0" stroke="#0b640b" stroke-width="0.9" stroke-opacity="0.75"/>
<line x1="211.8" y1="1213.4" x2="211.8" y2="1229.0" stroke="#0b640b" stroke-width="0.9" stroke-opacity="0.75"/>
<line x1="212.9" y1="1213.4" x2="212.9" y2="1229.0" stroke="#0b640b" stroke-width="0.9" stroke-opacity="0.75"/>
<line x1="222.4" y1="1213.4" x2="222.4" y2="1229.0" stroke="#0b640b" stroke-width="0.9" stroke-opacity="0.75"/>
<line x1="229.4" y1="1213.4" x2="229.4" y2="1229.0" stroke="#0b640b" stroke-width="0.9" stroke-opacity="0.75"/>
<line x1="239.3" y1="1213.4" x2="239.3" y2="1229.0" stroke="#0b640b" stroke-width="0.9" stroke-opacity="0.75"/>
<line x1="247.4" y1="1213.4" x2="247.4" y2="1229.0" stroke="#0b640b" stroke-width="0.9" stroke-opacity="0.75"/>
<line x1="254.5" y1="1213.4" x2="254.5" y2="1229.0" stroke="#0b640b" stroke-width="0.9" stroke-opacity="0.75"/>
<line x1="265.5" y1="1213.4" x2="265.5" y2="1229.0" stroke="#0b640b" stroke-width="0.9" stroke-opacity="0.75"/>
<line x1="271.7" y1="1213.4" x2="271.7" y2="1229.0" stroke="#0b640b" stroke-width="0.9" stroke-opacity="0.75"/>
<line x1="280.7" y1="1213.4" x2="280.7" y2="1229.0" stroke="#0b640b" stroke-width="0.9" stroke-opacity="0.75"/>
<line x1="282.6" y1="1213.4" x2="282.6" y2="1229.0" stroke="#0b640b" stroke-width="1.5" stroke-opacity="0.95"/>
<line x1="308.2" y1="1213.4" x2="308.2" y2="1229.0" stroke="#0b640b" stroke-width="0.9" stroke-opacity="0.75"/>
<line x1="315.2" y1="1213.4" x2="315.2" y2="1229.0" stroke="#0b640b" stroke-width="0.9" stroke-opacity="0.75"/>
<line x1="316.7" y1="1213.4" x2="316.7" y2="1229.0" stroke="#0b640b" stroke-width="0.9" stroke-opacity="0.75"/>
<line x1="318.0" y1="1213.4" x2="318.0" y2="1229.0" stroke="#0b640b" stroke-width="0.9" stroke-opacity="0.75"/>
<line x1="323.8" y1="1213.4" x2="323.8" y2="1229.0" stroke="#0b640b" stroke-width="0.9" stroke-opacity="0.75"/>
<line x1="326.1" y1="1213.4" x2="326.1" y2="1229.0" stroke="#0b640b" stroke-width="0.9" stroke-opacity="0.75"/>
<line x1="332.9" y1="1213.4" x2="332.9" y2="1229.0" stroke="#0b640b" stroke-width="0.9" stroke-opacity="0.75"/>
<line x1="334.8" y1="1213.4" x2="334.8" y2="1229.0" stroke="#0b640b" stroke-width="1.5" stroke-opacity="0.95"/>
<line x1="344.3" y1="1213.4" x2="344.3" y2="1229.0" stroke="#0b640b" stroke-width="0.9" stroke-opacity="0.75"/>
<line x1="352.3" y1="1213.4" x2="352.3" y2="1229.0" stroke="#0b640b" stroke-width="1.5" stroke-opacity="0.95"/>
<line x1="361.4" y1="1213.4" x2="361.4" y2="1229.0" stroke="#0b640b" stroke-width="0.9" stroke-opacity="0.75"/>
<line x1="367.8" y1="1213.4" x2="367.8" y2="1229.0" stroke="#0b640b" stroke-width="0.9" stroke-opacity="0.75"/>
<line x1="370.1" y1="1213.4" x2="370.1" y2="1229.0" stroke="#0b640b" stroke-width="0.9" stroke-opacity="0.75"/>
<line x1="378.8" y1="1213.4" x2="378.8" y2="1229.0" stroke="#0b640b" stroke-width="1.5" stroke-opacity="0.95"/>
<line x1="387.8" y1="1213.4" x2="387.8" y2="1229.0" stroke="#0b640b" stroke-width="1.5" stroke-opacity="0.95"/>
<line x1="394.0" y1="1213.4" x2="394.0" y2="1229.0" stroke="#0b640b" stroke-width="0.9" stroke-opacity="0.75"/>
<line x1="404.8" y1="1213.4" x2="404.8" y2="1229.0" stroke="#0b640b" stroke-width="0.9" stroke-opacity="0.75"/>
<line x1="412.6" y1="1213.4" x2="412.6" y2="1229.0" stroke="#0b640b" stroke-width="0.9" stroke-opacity="0.75"/>
<line x1="429.7" y1="1213.4" x2="429.7" y2="1229.0" stroke="#0b640b" stroke-width="0.9" stroke-opacity="0.75"/>
<line x1="431.0" y1="1213.4" x2="431.0" y2="1229.0" stroke="#0b640b" stroke-width="0.9" stroke-opacity="0.75"/>
<line x1="438.6" y1="1213.4" x2="438.6" y2="1229.0" stroke="#0b640b" stroke-width="0.9" stroke-opacity="0.75"/>
<line x1="455.2" y1="1213.4" x2="455.2" y2="1229.0" stroke="#0b640b" stroke-width="0.9" stroke-opacity="0.75"/>
<line x1="457.1" y1="1213.4" x2="457.1" y2="1229.0" stroke="#0b640b" stroke-width="0.9" stroke-opacity="0.75"/>
<line x1="463.7" y1="1213.4" x2="463.7" y2="1229.0" stroke="#0b640b" stroke-width="0.9" stroke-opacity="0.75"/>
<line x1="474.2" y1="1213.4" x2="474.2" y2="1229.0" stroke="#0b640b" stroke-width="0.9" stroke-opacity="0.75"/>
<line x1="482.7" y1="1213.4" x2="482.7" y2="1229.0" stroke="#0b640b" stroke-width="0.9" stroke-opacity="0.75"/>
<line x1="489.7" y1="1213.4" x2="489.7" y2="1229.0" stroke="#0b640b" stroke-width="0.9" stroke-opacity="0.75"/>
<line x1="491.6" y1="1213.4" x2="491.6" y2="1229.0" stroke="#0b640b" stroke-width="1.5" stroke-opacity="0.95"/>
<line x1="498.8" y1="1213.4" x2="498.8" y2="1229.0" stroke="#0b640b" stroke-width="0.9" stroke-opacity="0.75"/>
<line x1="500.7" y1="1213.4" x2="500.7" y2="1229.0" stroke="#0b640b" stroke-width="0.9" stroke-opacity="0.75"/>
<line x1="508.7" y1="1213.4" x2="508.7" y2="1229.0" stroke="#0b640b" stroke-width="0.9" stroke-opacity="0.75"/>
<line x1="509.8" y1="1213.4" x2="509.8" y2="1229.0" stroke="#0b640b" stroke-width="1.5" stroke-opacity="0.95"/>
<line x1="515.9" y1="1213.4" x2="515.9" y2="1229.0" stroke="#0b640b" stroke-width="0.9" stroke-opacity="0.75"/>
<line x1="517.8" y1="1213.4" x2="517.8" y2="1229.0" stroke="#0b640b" stroke-width="0.9" stroke-opacity="0.75"/>
<line x1="524.5" y1="1213.4" x2="524.5" y2="1229.0" stroke="#0b640b" stroke-width="0.9" stroke-opacity="0.75"/>
<line x1="535.3" y1="1213.4" x2="535.3" y2="1229.0" stroke="#0b640b" stroke-width="0.9" stroke-opacity="0.75"/>
<line x1="542.5" y1="1213.4" x2="542.5" y2="1229.0" stroke="#0b640b" stroke-width="0.9" stroke-opacity="0.75"/>
<line x1="544.0" y1="1213.4" x2="544.0" y2="1229.0" stroke="#0b640b" stroke-width="0.9" stroke-opacity="0.75"/>
<line x1="552.4" y1="1213.4" x2="552.4" y2="1229.0" stroke="#0b640b" stroke-width="0.9" stroke-opacity="0.75"/>
<line x1="561.6" y1="1213.4" x2="561.6" y2="1229.0" stroke="#0b640b" stroke-width="0.9" stroke-opacity="0.75"/>
<line x1="571.2" y1="1213.4" x2="571.2" y2="1229.0" stroke="#0b640b" stroke-width="0.9" stroke-opacity="0.75"/>
<line x1="576.5" y1="1213.4" x2="576.5" y2="1229.0" stroke="#0b640b" stroke-width="0.9" stroke-opacity="0.75"/>
<line x1="586.6" y1="1213.4" x2="586.6" y2="1229.0" stroke="#0b640b" stroke-width="0.9" stroke-opacity="0.75"/>
<line x1="595.8" y1="1213.4" x2="595.8" y2="1229.0" stroke="#0b640b" stroke-width="0.9" stroke-opacity="0.75"/>
<line x1="605.7" y1="1213.4" x2="605.7" y2="1229.0" stroke="#0b640b" stroke-width="0.9" stroke-opacity="0.75"/>
<line x1="640.4" y1="1213.4" x2="640.4" y2="1229.0" stroke="#0b640b" stroke-width="0.9" stroke-opacity="0.75"/>
<g fill="none" stroke-width="1.5">
<path d="M98.9,927.77 L101.4,928.21 L103.9,928.65 L106.4,929.08 L108.9,929.51 L111.4,929.91 L113.9,930.30 L116.4,930.67 L118.9,931.02 L121.4,931.34 L123.9,931.64 L126.4,931.92 L128.9,932.16 L131.4,932.39 L133.9,932.58 L136.4,932.74 L138.9,932.88 L141.4,933.00 L143.9,933.08 L146.4,933.15 L148.9,933.19 L151.4,933.20 L153.9,933.20 L156.4,933.17 L158.9,933.12 L161.4,933.06 L163.9,932.97 L166.4,932.86 L168.9,932.74 L171.4,932.61 L173.9,932.45 L176.4,932.28 L178.9,932.10 L181.4,931.91 L183.9,931.70 L186.4,931.47 L188.9,931.24 L191.4,931.00 L193.9,930.74 L196.4,930.48 L198.9,930.21 L201.4,929.93 L203.9,929.64 L206.4,929.35 L208.9,929.05 L211.4,928.74 L213.9,928.43 L216.4,928.12 L218.9,927.81 L221.4,927.49 L223.9,927.17 L226.4,926.86 L228.9,926.54 L231.4,926.23 L233.9,925.92 L236.4,925.60 L238.9,925.29 L241.4,924.97 L243.9,924.65 L246.4,924.33 L248.9,924.00 L251.4,923.66 L253.9,923.32 L256.4,922.96 L258.9,922.59 L261.4,922.21 L263.9,921.82 L266.4,921.41 L268.9,920.98 L271.4,920.53 L273.9,920.07 L276.4,919.59 L278.9,919.09 L281.4,918.57 L283.9,918.04 L286.4,917.48 L288.9,916.90 L291.4,916.30 L293.9,915.68 L296.4,915.02 L298.9,914.34 L301.4,913.63 L303.9,912.89 L306.4,912.12 L308.9,911.30 L311.4,910.45 L313.9,909.56 L316.4,908.63 L318.9,907.65 L321.4,906.62 L323.9,905.54 L326.4,904.40 L328.9,903.21 L331.4,901.96 L333.9,900.67 L336.4,899.33 L338.9,897.94 L341.4,896.52 L343.9,895.05 L346.4,893.55 L348.9,892.02 L351.4,890.45 L353.9,888.84 L356.4,887.21 L358.9,885.54 L361.4,883.85 L363.9,882.13 L366.4,880.39 L368.9,878.62 L371.4,876.82 L373.9,875.01 L376.4,873.17 L378.9,871.32 L381.4,869.44 L383.9,867.56 L386.4,865.67 L388.9,863.77 L391.4,861.87 L393.9,859.97 L396.4,858.08 L398.9,856.19 L401.4,854.32 L403.9,852.47 L406.4,850.63 L408.9,848.81 L411.4,847.01 L413.9,845.24 L416.4,843.50 L418.9,841.78 L421.4,840.09 L423.9,838.42 L426.4,836.79 L428.9,835.18 L431.4,833.60 L433.9,832.06 L436.4,830.55 L438.9,829.08 L441.4,827.66 L443.9,826.28 L446.4,824.96 L448.9,823.68 L451.4,822.45 L453.9,821.27 L456.4,820.14 L458.9,819.06 L461.4,818.04 L463.9,817.07 L466.4,816.15 L468.9,815.28 L471.4,814.47 L473.9,813.71 L476.4,813.01 L478.9,812.36 L481.4,811.76 L483.9,811.21 L486.4,810.71 L488.9,810.25 L491.4,809.84 L493.9,809.46 L496.4,809.13 L498.9,808.83 L501.4,808.57 L503.9,808.34 L506.4,808.14 L508.9,807.97 L511.4,807.82 L513.9,807.69 L516.4,807.59 L518.9,807.50 L521.4,807.43 L523.9,807.37 L526.4,807.32 L528.9,807.28 L531.4,807.24 L533.9,807.22 L536.4,807.19 L538.9,807.17 L541.4,807.15 L543.9,807.12 L546.4,807.10 L548.9,807.07 L551.4,807.03 L553.9,806.98 L556.4,806.92 L558.9,806.85 L561.4,806.76 L563.9,806.65 L566.4,806.52 L568.9,806.37 L571.4,806.19 L573.9,805.99 L576.4,805.76 L578.9,805.49 L581.4,805.20 L583.9,804.87 L586.4,804.50 L588.9,804.10 L591.4,803.66 L593.9,803.19 L596.4,802.67 L598.9,802.11 L601.4,801.51 L603.9,800.87 L606.4,800.18 L608.9,799.46 L611.4,798.70 L613.9,797.90 L616.4,797.06 L618.9,796.18 L621.4,795.26 L623.9,794.31 L626.4,793.32 L628.9,792.30 L631.4,791.27 L633.9,790.21 L636.4,789.15 L638.9,788.08 L639.3,787.91" stroke="#d81e2e" stroke-dasharray="2.3 3.05"/>
<path d="M98.5,1162.58 L101.0,1162.07 L103.5,1161.57 L106.0,1161.06 L108.5,1160.57 L111.0,1160.08 L113.5,1159.59 L116.0,1159.12 L118.5,1158.66 L121.0,1158.21 L123.5,1157.77 L126.0,1157.34 L128.5,1156.92 L131.0,1156.51 L133.5,1156.11 L136.0,1155.73 L138.5,1155.35 L141.0,1154.99 L143.5,1154.63 L146.0,1154.29 L148.5,1153.96 L151.0,1153.63 L153.5,1153.31 L156.0,1153.00 L158.5,1152.70 L161.0,1152.40 L163.5,1152.11 L166.0,1151.82 L168.5,1151.53 L171.0,1151.25 L173.5,1150.96 L176.0,1150.68 L178.5,1150.40 L181.0,1150.11 L183.5,1149.82 L186.0,1149.52 L188.5,1149.22 L191.0,1148.92 L193.5,1148.61 L196.0,1148.29 L198.5,1147.97 L201.0,1147.64 L203.5,1147.30 L206.0,1146.96 L208.5,1146.61 L211.0,1146.26 L213.5,1145.90 L216.0,1145.54 L218.5,1145.18 L221.0,1144.82 L223.5,1144.45 L226.0,1144.09 L228.5,1143.73 L231.0,1143.38 L233.5,1143.03 L236.0,1142.69 L238.5,1142.35 L241.0,1142.02 L243.5,1141.69 L246.0,1141.37 L248.5,1141.05 L251.0,1140.74 L253.5,1140.44 L256.0,1140.14 L258.5,1139.84 L261.0,1139.54 L263.5,1139.25 L266.0,1138.96 L268.5,1138.66 L271.0,1138.37 L273.5,1138.08 L276.0,1137.78 L278.5,1137.48 L281.0,1137.17 L283.5,1136.86 L286.0,1136.54 L288.5,1136.22 L291.0,1135.88 L293.5,1135.53 L296.0,1135.16 L298.5,1134.78 L301.0,1134.38 L303.5,1133.97 L306.0,1133.53 L308.5,1133.07 L311.0,1132.58 L313.5,1132.06 L316.0,1131.52 L318.5,1130.95 L321.0,1130.36 L323.5,1129.74 L326.0,1129.10 L328.5,1128.44 L331.0,1127.76 L333.5,1127.08 L336.0,1126.38 L338.5,1125.66 L341.0,1124.93 L343.5,1124.19 L346.0,1123.44 L348.5,1122.67 L351.0,1121.88 L353.5,1121.08 L356.0,1120.26 L358.5,1119.42 L361.0,1118.57 L363.5,1117.69 L366.0,1116.80 L368.5,1115.89 L371.0,1114.96 L373.5,1114.02 L376.0,1113.06 L378.5,1112.09 L381.0,1111.10 L383.5,1110.10 L386.0,1109.10 L388.5,1108.08 L391.0,1107.07 L393.5,1106.06 L396.0,1105.04 L398.5,1104.04 L401.0,1103.04 L403.5,1102.05 L406.0,1101.07 L408.5,1100.10 L411.0,1099.15 L413.5,1098.21 L416.0,1097.29 L418.5,1096.39 L421.0,1095.50 L423.5,1094.63 L426.0,1093.78 L428.5,1092.95 L431.0,1092.13 L433.5,1091.33 L436.0,1090.55 L438.5,1089.79 L441.0,1089.04 L443.5,1088.32 L446.0,1087.61 L448.5,1086.93 L451.0,1086.27 L453.5,1085.63 L456.0,1085.01 L458.5,1084.43 L461.0,1083.86 L463.5,1083.33 L466.0,1082.82 L468.5,1082.34 L471.0,1081.89 L473.5,1081.47 L476.0,1081.07 L478.5,1080.71 L481.0,1080.37 L483.5,1080.07 L486.0,1079.79 L488.5,1079.54 L491.0,1079.32 L493.5,1079.13 L496.0,1078.96 L498.5,1078.81 L501.0,1078.69 L503.5,1078.59 L506.0,1078.51 L508.5,1078.44 L511.0,1078.39 L513.5,1078.35 L516.0,1078.32 L518.5,1078.31 L521.0,1078.30 L523.5,1078.30 L526.0,1078.30 L528.5,1078.32 L531.0,1078.33 L533.5,1078.36 L536.0,1078.38 L538.5,1078.42 L541.0,1078.46 L543.5,1078.50 L546.0,1078.56 L548.5,1078.61 L551.0,1078.68 L553.5,1078.75 L556.0,1078.83 L558.5,1078.92 L561.0,1079.01 L563.5,1079.11 L566.0,1079.21 L568.5,1079.32 L571.0,1079.44 L573.5,1079.57 L576.0,1079.70 L578.5,1079.85 L581.0,1080.00 L583.5,1080.16 L586.0,1080.32 L588.5,1080.50 L591.0,1080.69 L593.5,1080.89 L596.0,1081.10 L598.5,1081.33 L601.0,1081.57 L603.5,1081.82 L606.0,1082.08 L608.5,1082.37 L611.0,1082.67 L613.5,1082.99 L616.0,1083.32 L618.5,1083.67 L621.0,1084.03 L623.5,1084.41 L626.0,1084.80 L628.5,1085.20 L631.0,1085.60 L633.5,1086.01 L636.0,1086.43 L638.5,1086.85 L639.1,1086.95" stroke="#d81e2e" stroke-dasharray="2.3 3.05"/>
<path d="M124.9,873.40 L127.4,873.54 L129.9,873.68 L132.4,873.81 L134.9,873.94 L137.4,874.05 L139.9,874.14 L142.4,874.22 L144.9,874.29 L147.4,874.33 L149.9,874.35 L152.4,874.35 L154.9,874.33 L157.4,874.28 L159.9,874.21 L162.4,874.12 L164.9,874.01 L167.4,873.88 L169.9,873.73 L172.4,873.56 L174.9,873.37 L177.4,873.17 L179.9,872.96 L182.4,872.73 L184.9,872.49 L187.4,872.23 L189.9,871.97 L192.4,871.71 L194.9,871.43 L197.4,871.15 L199.9,870.86 L202.4,870.57 L204.9,870.27 L207.4,869.96 L209.9,869.65 L212.4,869.33 L214.9,869.00 L217.4,868.67 L219.9,868.33 L222.4,867.99 L224.9,867.64 L227.4,867.28 L229.9,866.92 L232.4,866.55 L234.9,866.17 L237.4,865.78 L239.9,865.39 L242.4,864.99 L244.9,864.59 L247.4,864.18 L249.9,863.76 L252.4,863.35 L254.9,862.92 L257.4,862.50 L259.9,862.07 L262.4,861.63 L264.9,861.19 L267.4,860.73 L269.9,860.27 L272.4,859.80 L274.9,859.32 L277.4,858.82 L279.9,858.31 L282.4,857.78 L284.9,857.23 L287.4,856.66 L289.9,856.06 L292.4,855.43 L294.9,854.78 L297.4,854.09 L299.9,853.37 L302.4,852.61 L304.9,851.82 L307.4,850.98 L309.9,850.10 L312.4,849.18 L314.9,848.21 L317.4,847.18 L319.9,846.10 L322.4,844.97 L324.9,843.78 L327.4,842.53 L329.9,841.21 L332.4,839.84 L334.9,838.41 L337.4,836.92 L339.9,835.37 L342.4,833.76 L344.9,832.09 L347.4,830.37 L349.9,828.59 L352.4,826.77 L354.9,824.89 L357.4,822.98 L359.9,821.04 L362.4,819.08 L364.9,817.10 L367.4,815.10 L369.9,813.08 L372.4,811.05 L374.9,809.00 L377.4,806.94 L379.9,804.85 L382.4,802.76 L384.9,800.65 L387.4,798.52 L389.9,796.39 L392.4,794.25 L394.9,792.10 L397.4,789.94 L399.9,787.78 L402.4,785.63 L404.9,783.48 L407.4,781.34 L409.9,779.21 L412.4,777.11 L414.9,775.03 L417.4,772.97 L419.9,770.95 L422.4,768.96 L424.9,767.01 L427.4,765.10 L429.9,763.24 L432.4,761.42 L434.9,759.66 L437.4,757.94 L439.9,756.29 L442.4,754.69 L444.9,753.15 L447.4,751.68 L449.9,750.27 L452.4,748.93 L454.9,747.66 L457.4,746.46 L459.9,745.33 L462.4,744.26 L464.9,743.26 L467.4,742.34 L469.9,741.47 L472.4,740.67 L474.9,739.92 L477.4,739.23 L479.9,738.58 L482.4,737.99 L484.9,737.44 L487.4,736.93 L489.9,736.46 L492.4,736.03 L494.9,735.64 L497.4,735.29 L499.9,734.97 L502.4,734.69 L504.9,734.44 L507.4,734.23 L509.9,734.04 L512.4,733.89 L514.9,733.75 L517.4,733.64 L519.9,733.55 L522.4,733.48 L524.9,733.42 L527.4,733.37 L529.9,733.34 L532.4,733.31 L534.9,733.28 L537.4,733.25 L539.9,733.23 L542.4,733.19 L544.9,733.15 L547.4,733.09 L549.9,733.02 L552.4,732.93 L554.9,732.82 L557.4,732.69 L559.9,732.54 L562.4,732.37 L564.9,732.17 L567.4,731.94 L569.9,731.69 L572.4,731.41 L574.9,731.10 L577.4,730.76 L579.9,730.41 L582.4,730.03 L584.9,729.63 L587.4,729.22 L589.9,728.80 L592.4,728.36 L594.9,727.92 L597.4,727.46 L599.9,727.00 L602.4,726.54 L604.9,726.07 L605.6,725.94" stroke="#2424c4" stroke-dasharray="6.3 4.6"/>
<path d="M124.9,1128.61 L127.4,1128.18 L129.9,1127.76 L132.4,1127.34 L134.9,1126.92 L137.4,1126.51 L139.9,1126.10 L142.4,1125.69 L144.9,1125.28 L147.4,1124.88 L149.9,1124.49 L152.4,1124.10 L154.9,1123.71 L157.4,1123.32 L159.9,1122.94 L162.4,1122.56 L164.9,1122.19 L167.4,1121.82 L169.9,1121.46 L172.4,1121.10 L174.9,1120.74 L177.4,1120.39 L179.9,1120.04 L182.4,1119.70 L184.9,1119.37 L187.4,1119.04 L189.9,1118.72 L192.4,1118.40 L194.9,1118.09 L197.4,1117.79 L199.9,1117.49 L202.4,1117.19 L204.9,1116.89 L207.4,1116.59 L209.9,1116.29 L212.4,1115.99 L214.9,1115.69 L217.4,1115.38 L219.9,1115.07 L222.4,1114.75 L224.9,1114.42 L227.4,1114.09 L229.9,1113.75 L232.4,1113.40 L234.9,1113.05 L237.4,1112.69 L239.9,1112.32 L242.4,1111.96 L244.9,1111.59 L247.4,1111.22 L249.9,1110.86 L252.4,1110.49 L254.9,1110.14 L257.4,1109.79 L259.9,1109.45 L262.4,1109.11 L264.9,1108.78 L267.4,1108.45 L269.9,1108.12 L272.4,1107.79 L274.9,1107.46 L277.4,1107.13 L279.9,1106.80 L282.4,1106.46 L284.9,1106.12 L287.4,1105.77 L289.9,1105.40 L292.4,1105.03 L294.9,1104.64 L297.4,1104.25 L299.9,1103.83 L302.4,1103.40 L304.9,1102.96 L307.4,1102.49 L309.9,1102.01 L312.4,1101.50 L314.9,1100.97 L317.4,1100.41 L319.9,1099.82 L322.4,1099.21 L324.9,1098.56 L327.4,1097.88 L329.9,1097.16 L332.4,1096.41 L334.9,1095.62 L337.4,1094.79 L339.9,1093.93 L342.4,1093.03 L344.9,1092.09 L347.4,1091.12 L349.9,1090.11 L352.4,1089.08 L354.9,1088.03 L357.4,1086.96 L359.9,1085.87 L362.4,1084.76 L364.9,1083.65 L367.4,1082.52 L369.9,1081.38 L372.4,1080.24 L374.9,1079.10 L377.4,1077.95 L379.9,1076.79 L382.4,1075.64 L384.9,1074.49 L387.4,1073.34 L389.9,1072.19 L392.4,1071.04 L394.9,1069.89 L397.4,1068.76 L399.9,1067.62 L402.4,1066.49 L404.9,1065.37 L407.4,1064.26 L409.9,1063.16 L412.4,1062.08 L414.9,1061.00 L417.4,1059.94 L419.9,1058.90 L422.4,1057.88 L424.9,1056.87 L427.4,1055.89 L429.9,1054.92 L432.4,1053.98 L434.9,1053.06 L437.4,1052.16 L439.9,1051.29 L442.4,1050.44 L444.9,1049.62 L447.4,1048.83 L449.9,1048.06 L452.4,1047.33 L454.9,1046.63 L457.4,1045.96 L459.9,1045.33 L462.4,1044.74 L464.9,1044.18 L467.4,1043.65 L469.9,1043.16 L472.4,1042.71 L474.9,1042.29 L477.4,1041.90 L479.9,1041.54 L482.4,1041.21 L484.9,1040.91 L487.4,1040.64 L489.9,1040.39 L492.4,1040.16 L494.9,1039.96 L497.4,1039.79 L499.9,1039.64 L502.4,1039.50 L504.9,1039.39 L507.4,1039.30 L509.9,1039.24 L512.4,1039.18 L514.9,1039.15 L517.4,1039.13 L519.9,1039.13 L522.4,1039.14 L524.9,1039.16 L527.4,1039.20 L529.9,1039.25 L532.4,1039.30 L534.9,1039.37 L537.4,1039.44 L539.9,1039.53 L542.4,1039.62 L544.9,1039.71 L547.4,1039.81 L549.9,1039.92 L552.4,1040.02 L554.9,1040.14 L557.4,1040.25 L559.9,1040.37 L562.4,1040.49 L564.9,1040.62 L567.4,1040.74 L569.9,1040.87 L572.4,1041.01 L574.9,1041.14 L577.4,1041.28 L579.9,1041.42 L582.4,1041.56 L584.9,1041.71 L587.4,1041.85 L589.9,1042.01 L592.4,1042.16 L594.9,1042.32 L597.4,1042.48 L599.9,1042.64 L602.4,1042.81 L604.9,1042.97 L605.6,1043.02" stroke="#2424c4" stroke-dasharray="6.3 4.6"/>
<path d="M98.9,1048.24 L101.4,1047.92 L103.9,1047.61 L106.4,1047.29 L108.9,1046.98 L111.4,1046.67 L113.9,1046.36 L116.4,1046.05 L118.9,1045.75 L121.4,1045.45 L123.9,1045.16 L126.4,1044.86 L128.9,1044.57 L131.4,1044.29 L133.9,1044.01 L136.4,1043.73 L138.9,1043.46 L141.4,1043.19 L143.9,1042.92 L146.4,1042.66 L148.9,1042.40 L151.4,1042.14 L153.9,1041.88 L156.4,1041.63 L158.9,1041.38 L161.4,1041.13 L163.9,1040.88 L166.4,1040.63 L168.9,1040.38 L171.4,1040.13 L173.9,1039.88 L176.4,1039.63 L178.9,1039.38 L181.4,1039.14 L183.9,1038.89 L186.4,1038.64 L188.9,1038.38 L191.4,1038.13 L193.9,1037.88 L196.4,1037.62 L198.9,1037.37 L201.4,1037.11 L203.9,1036.85 L206.4,1036.59 L208.9,1036.33 L211.4,1036.07 L213.9,1035.80 L216.4,1035.54 L218.9,1035.27 L221.4,1035.00 L223.9,1034.73 L226.4,1034.45 L228.9,1034.17 L231.4,1033.88 L233.9,1033.59 L236.4,1033.28 L238.9,1032.98 L241.4,1032.66 L243.9,1032.34 L246.4,1032.01 L248.9,1031.68 L251.4,1031.34 L253.9,1031.00 L256.4,1030.65 L258.9,1030.29 L261.4,1029.93 L263.9,1029.57 L266.4,1029.20 L268.9,1028.82 L271.4,1028.43 L273.9,1028.03 L276.4,1027.63 L278.9,1027.21 L281.4,1026.78 L283.9,1026.34 L286.4,1025.88 L288.9,1025.40 L291.4,1024.91 L293.9,1024.40 L296.4,1023.87 L298.9,1023.32 L301.4,1022.75 L303.9,1022.16 L306.4,1021.54 L308.9,1020.90 L311.4,1020.24 L313.9,1019.56 L316.4,1018.85 L318.9,1018.11 L321.4,1017.35 L323.9,1016.56 L326.4,1015.74 L328.9,1014.89 L331.4,1014.01 L333.9,1013.09 L336.4,1012.14 L338.9,1011.15 L341.4,1010.12 L343.9,1009.06 L346.4,1007.95 L348.9,1006.81 L351.4,1005.63 L353.9,1004.42 L356.4,1003.18 L358.9,1001.91 L361.4,1000.62 L363.9,999.30 L366.4,997.95 L368.9,996.59 L371.4,995.20 L373.9,993.80 L376.4,992.38 L378.9,990.94 L381.4,989.49 L383.9,988.03 L386.4,986.56 L388.9,985.08 L391.4,983.60 L393.9,982.11 L396.4,980.62 L398.9,979.13 L401.4,977.64 L403.9,976.15 L406.4,974.67 L408.9,973.21 L411.4,971.75 L413.9,970.31 L416.4,968.89 L418.9,967.48 L421.4,966.10 L423.9,964.74 L426.4,963.41 L428.9,962.10 L431.4,960.83 L433.9,959.59 L436.4,958.38 L438.9,957.20 L441.4,956.06 L443.9,954.96 L446.4,953.90 L448.9,952.88 L451.4,951.89 L453.9,950.95 L456.4,950.04 L458.9,949.18 L461.4,948.36 L463.9,947.58 L466.4,946.84 L468.9,946.14 L471.4,945.49 L473.9,944.88 L476.4,944.32 L478.9,943.79 L481.4,943.31 L483.9,942.87 L486.4,942.46 L488.9,942.09 L491.4,941.76 L493.9,941.46 L496.4,941.19 L498.9,940.94 L501.4,940.73 L503.9,940.55 L506.4,940.39 L508.9,940.25 L511.4,940.14 L513.9,940.04 L516.4,939.96 L518.9,939.91 L521.4,939.86 L523.9,939.83 L526.4,939.82 L528.9,939.81 L531.4,939.81 L533.9,939.82 L536.4,939.84 L538.9,939.86 L541.4,939.89 L543.9,939.91 L546.4,939.94 L548.9,939.96 L551.4,939.98 L553.9,939.99 L556.4,940.01 L558.9,940.02 L561.4,940.02 L563.9,940.02 L566.4,940.02 L568.9,940.02 L571.4,940.01 L573.9,940.00 L576.4,939.98 L578.9,939.96 L581.4,939.94 L583.9,939.91 L586.4,939.88 L588.9,939.85 L591.4,939.82 L593.9,939.78 L596.4,939.74 L598.9,939.70 L601.4,939.66 L603.9,939.62 L606.4,939.57 L608.9,939.53 L611.4,939.49 L613.9,939.44 L616.4,939.40 L618.9,939.36 L621.4,939.31 L623.9,939.27 L626.4,939.23 L628.9,939.18 L631.4,939.14 L633.9,939.09 L636.4,939.05 L638.9,939.01 L639.3,939.00" stroke="#0b640b" stroke-width="1.35"/>
</g>
<g fill="none" stroke="#e6323c" stroke-width="0.95">
<circle cx="99.1" cy="1046.7" r="3.15"/><path d="M99.1,1049.9 L99.1,1055.5 M96.3,1053.0 L101.9,1053.0"/>
<circle cx="212.4" cy="1003.3" r="3.15"/><path d="M212.4,1006.5 L212.4,1012.1 M209.6,1009.6 L215.2,1009.6"/>
<circle cx="220.8" cy="1059.2" r="3.15"/><path d="M220.8,1062.4 L220.8,1068.0 M218.0,1065.5 L223.6,1065.5"/>
<circle cx="142.3" cy="1078.0" r="3.15"/><path d="M142.3,1081.2 L142.3,1086.8 M139.5,1084.3 L145.1,1084.3"/>
<circle cx="212.4" cy="1074.2" r="3.15"/><path d="M212.4,1077.4 L212.4,1083.0 M209.6,1080.5 L215.2,1080.5"/>
<circle cx="238.4" cy="1076.3" r="3.15"/><path d="M238.4,1079.5 L238.4,1085.1 M235.6,1082.6 L241.2,1082.6"/>
<circle cx="255.6" cy="934.8" r="3.15"/><path d="M255.6,938.0 L255.6,943.6 M252.8,941.1 L258.4,941.1"/>
<circle cx="334.3" cy="934.4" r="3.15"/><path d="M334.3,937.6 L334.3,943.2 M331.5,940.7 L337.1,940.7"/>
<circle cx="334.3" cy="952.0" r="3.15"/><path d="M334.3,955.1 L334.3,960.8 M331.5,958.3 L337.1,958.3"/>
<circle cx="351.3" cy="973.8" r="3.15"/><path d="M351.3,977.0 L351.3,982.6 M348.5,980.1 L354.1,980.1"/>
<circle cx="351.3" cy="983.2" r="3.15"/><path d="M351.3,986.4 L351.3,992.0 M348.5,989.5 L354.1,989.5"/>
<circle cx="247.2" cy="999.5" r="3.15"/><path d="M247.2,1002.6 L247.2,1008.3 M244.4,1005.8 L250.0,1005.8"/>
<circle cx="282.0" cy="985.8" r="3.15"/><path d="M282.0,989.0 L282.0,994.6 M279.2,992.1 L284.8,992.1"/>
<circle cx="282.0" cy="1042.2" r="3.15"/><path d="M282.0,1045.4 L282.0,1051.0 M279.2,1048.5 L284.8,1048.5"/>
<circle cx="308.3" cy="1004.5" r="3.15"/><path d="M308.3,1007.6 L308.3,1013.3 M305.5,1010.8 L311.1,1010.8"/>
<circle cx="334.4" cy="1019.6" r="3.15"/><path d="M334.4,1022.8 L334.4,1028.4 M331.6,1025.9 L337.2,1025.9"/>
<circle cx="377.5" cy="999.9" r="3.15"/><path d="M377.5,1003.1 L377.5,1008.7 M374.7,1006.2 L380.3,1006.2"/>
<circle cx="377.5" cy="1007.2" r="3.15"/><path d="M377.5,1010.4 L377.5,1016.0 M374.7,1013.5 L380.3,1013.5"/>
<circle cx="377.5" cy="1011.2" r="3.15"/><path d="M377.5,1014.4 L377.5,1020.0 M374.7,1017.5 L380.3,1017.5"/>
<circle cx="316.7" cy="1045.0" r="3.15"/><path d="M316.7,1048.2 L316.7,1053.8 M313.9,1051.3 L319.5,1051.3"/>
<circle cx="316.7" cy="1050.2" r="3.15"/><path d="M316.7,1053.4 L316.7,1059.0 M313.9,1056.5 L319.5,1056.5"/>
<circle cx="334.4" cy="1053.5" r="3.15"/><path d="M334.4,1056.7 L334.4,1062.3 M331.6,1059.8 L337.2,1059.8"/>
<circle cx="369.2" cy="1045.6" r="3.15"/><path d="M369.2,1048.8 L369.2,1054.4 M366.4,1051.9 L372.0,1051.9"/>
<circle cx="369.2" cy="1050.2" r="3.15"/><path d="M369.2,1053.4 L369.2,1059.0 M366.4,1056.5 L372.0,1056.5"/>
<circle cx="377.9" cy="1047.6" r="3.15"/><path d="M377.9,1050.8 L377.9,1056.4 M375.1,1053.9 L380.7,1053.9"/>
<circle cx="316.7" cy="1070.6" r="3.15"/><path d="M316.7,1073.8 L316.7,1079.4 M313.9,1076.9 L319.5,1076.9"/>
<circle cx="351.6" cy="1066.6" r="3.15"/><path d="M351.6,1069.8 L351.6,1075.4 M348.8,1072.9 L354.4,1072.9"/>
<circle cx="343.0" cy="1095.5" r="3.15"/><path d="M343.0,1098.7 L343.0,1104.3 M340.2,1101.8 L345.8,1101.8"/>
<circle cx="325.4" cy="1121.5" r="3.15"/><path d="M325.4,1124.7 L325.4,1130.3 M322.6,1127.8 L328.2,1127.8"/>
<circle cx="334.3" cy="1126.2" r="3.15"/><path d="M334.3,1129.4 L334.3,1135.0 M331.5,1132.5 L337.1,1132.5"/>
<circle cx="482.2" cy="741.4" r="3.15"/><path d="M482.2,744.6 L482.2,750.2 M479.4,747.7 L485.0,747.7"/>
<circle cx="438.7" cy="804.8" r="3.15"/><path d="M438.7,808.0 L438.7,813.6 M435.9,811.1 L441.5,811.1"/>
<circle cx="499.8" cy="816.1" r="3.15"/><path d="M499.8,819.2 L499.8,824.9 M497.0,822.4 L502.6,822.4"/>
<circle cx="491.1" cy="868.6" r="3.15"/><path d="M491.1,871.8 L491.1,877.4 M488.3,874.9 L493.9,874.9"/>
<circle cx="455.8" cy="880.3" r="3.15"/><path d="M455.8,883.5 L455.8,889.1 M453.0,886.6 L458.6,886.6"/>
<circle cx="386.5" cy="921.4" r="3.15"/><path d="M386.5,924.6 L386.5,930.2 M383.7,927.7 L389.3,927.7"/>
<circle cx="456.4" cy="929.5" r="3.15"/><path d="M456.4,932.6 L456.4,938.3 M453.6,935.8 L459.2,935.8"/>
<circle cx="403.4" cy="964.9" r="3.15"/><path d="M403.4,968.1 L403.4,973.7 M400.6,971.2 L406.2,971.2"/>
<circle cx="508.0" cy="978.5" r="3.15"/><path d="M508.0,981.6 L508.0,987.3 M505.2,984.8 L510.8,984.8"/>
<circle cx="517.4" cy="983.3" r="3.15"/><path d="M517.4,986.5 L517.4,992.1 M514.6,989.6 L520.2,989.6"/>
<circle cx="491.1" cy="985.6" r="3.15"/><path d="M491.1,988.8 L491.1,994.4 M488.3,991.9 L493.9,991.9"/>
<circle cx="455.8" cy="1002.1" r="3.15"/><path d="M455.8,1005.2 L455.8,1010.9 M453.0,1008.4 L458.6,1008.4"/>
<circle cx="508.0" cy="1018.5" r="3.15"/><path d="M508.0,1021.6 L508.0,1027.3 M505.2,1024.8 L510.8,1024.8"/>
<circle cx="412.4" cy="1029.1" r="3.15"/><path d="M412.4,1032.3 L412.4,1037.9 M409.6,1035.4 L415.2,1035.4"/>
<circle cx="482.2" cy="1031.9" r="3.15"/><path d="M482.2,1035.1 L482.2,1040.7 M479.4,1038.2 L485.0,1038.2"/>
<circle cx="491.1" cy="1033.8" r="3.15"/><path d="M491.1,1037.0 L491.1,1042.6 M488.3,1040.1 L493.9,1040.1"/>
<circle cx="491.1" cy="1046.0" r="3.15"/><path d="M491.1,1049.2 L491.1,1054.8 M488.3,1052.3 L493.9,1052.3"/>
<circle cx="430.0" cy="1045.6" r="3.15"/><path d="M430.0,1048.8 L430.0,1054.4 M427.2,1051.9 L432.8,1051.9"/>
<circle cx="430.0" cy="1059.2" r="3.15"/><path d="M430.0,1062.4 L430.0,1068.0 M427.2,1065.5 L432.8,1065.5"/>
<circle cx="639.1" cy="928.1" r="3.15"/><path d="M639.1,931.2 L639.1,936.9 M636.3,934.4 L641.9,934.4"/>
<circle cx="552.0" cy="936.3" r="3.15"/><path d="M552.0,939.5 L552.0,945.1 M549.2,942.6 L554.8,942.6"/>
<circle cx="560.6" cy="952.9" r="3.15"/><path d="M560.6,956.1 L560.6,961.7 M557.8,959.2 L563.4,959.2"/>
<circle cx="552.0" cy="957.2" r="3.15"/><path d="M552.0,960.4 L552.0,966.0 M549.2,963.5 L554.8,963.5"/>
<circle cx="586.5" cy="954.6" r="3.15"/><path d="M586.5,957.8 L586.5,963.4 M583.7,960.9 L589.3,960.9"/>
<circle cx="543.3" cy="985.7" r="3.15"/><path d="M543.3,988.9 L543.3,994.5 M540.5,992.0 L546.1,992.0"/>
<circle cx="569.3" cy="1014.8" r="3.15"/><path d="M569.3,1018.0 L569.3,1023.6 M566.5,1021.1 L572.1,1021.1"/>
<circle cx="543.3" cy="1027.8" r="3.15"/><path d="M543.3,1031.0 L543.3,1036.6 M540.5,1034.1 L546.1,1034.1"/>
<circle cx="577.9" cy="1053.7" r="3.15"/><path d="M577.9,1056.9 L577.9,1062.5 M575.1,1060.0 L580.7,1060.0"/>
<circle cx="595.2" cy="1059.1" r="3.15"/><path d="M595.2,1062.3 L595.2,1067.9 M592.4,1065.4 L598.0,1065.4"/>
<circle cx="543.3" cy="1068.4" r="3.15"/><path d="M543.3,1071.6 L543.3,1077.2 M540.5,1074.7 L546.1,1074.7"/>
</g>
<g fill="none" stroke="#5050e0" stroke-width="0.95">
<ellipse cx="124.7" cy="959.3" rx="3.2" ry="2.95"/><path d="M125.89,956.54 L128.40,950.70 M125.00,952.10 L128.40,950.70 L129.40,954.60"/>
<ellipse cx="228.6" cy="934.6" rx="3.2" ry="2.95"/><path d="M229.79,931.84 L232.30,926.00 M228.90,927.40 L232.30,926.00 L233.30,929.90"/>
<ellipse cx="159.7" cy="1036.4" rx="3.2" ry="2.95"/><path d="M160.89,1033.64 L163.40,1027.80 M160.00,1029.20 L163.40,1027.80 L164.40,1031.70"/>
<ellipse cx="281.2" cy="911.1" rx="3.2" ry="2.95"/><path d="M282.39,908.34 L284.90,902.50 M281.50,903.90 L284.90,902.50 L285.90,906.40"/>
<ellipse cx="316.0" cy="924.0" rx="3.2" ry="2.95"/><path d="M317.19,921.24 L319.70,915.40 M316.30,916.80 L319.70,915.40 L320.70,919.30"/>
<ellipse cx="368.9" cy="951.1" rx="3.2" ry="2.95"/><path d="M370.09,948.34 L372.60,942.50 M369.20,943.90 L372.60,942.50 L373.60,946.40"/>
<ellipse cx="263.5" cy="1024.9" rx="3.2" ry="2.95"/><path d="M264.69,1022.14 L267.20,1016.30 M263.80,1017.70 L267.20,1016.30 L268.20,1020.20"/>
<ellipse cx="272.3" cy="1034.7" rx="3.2" ry="2.95"/><path d="M273.49,1031.94 L276.00,1026.10 M272.60,1027.50 L276.00,1026.10 L277.00,1030.00"/>
<ellipse cx="281.6" cy="1043.3" rx="3.2" ry="2.95"/><path d="M282.79,1040.54 L285.30,1034.70 M281.90,1036.10 L285.30,1034.70 L286.30,1038.60"/>
<ellipse cx="325.0" cy="1003.3" rx="3.2" ry="2.95"/><path d="M326.19,1000.54 L328.70,994.70 M325.30,996.10 L328.70,994.70 L329.70,998.60"/>
<ellipse cx="333.5" cy="1001.3" rx="3.2" ry="2.95"/><path d="M334.69,998.54 L337.20,992.70 M333.80,994.10 L337.20,992.70 L338.20,996.60"/>
<ellipse cx="359.8" cy="1002.0" rx="3.2" ry="2.95"/><path d="M360.99,999.24 L363.50,993.40 M360.10,994.80 L363.50,993.40 L364.50,997.30"/>
<ellipse cx="386.7" cy="996.1" rx="3.2" ry="2.95"/><path d="M387.89,993.34 L390.40,987.50 M387.00,988.90 L390.40,987.50 L391.40,991.40"/>
<ellipse cx="368.3" cy="1034.8" rx="3.2" ry="2.95"/><path d="M369.49,1032.04 L372.00,1026.20 M368.60,1027.60 L372.00,1026.20 L373.00,1030.10"/>
<ellipse cx="351.8" cy="1049.6" rx="3.2" ry="2.95"/><path d="M352.99,1046.84 L355.50,1041.00 M352.10,1042.40 L355.50,1041.00 L356.50,1044.90"/>
<ellipse cx="281.5" cy="1072.7" rx="3.2" ry="2.95"/><path d="M282.69,1069.94 L285.20,1064.10 M281.80,1065.50 L285.20,1064.10 L286.20,1068.00"/>
<ellipse cx="508.0" cy="764.6" rx="3.2" ry="2.95"/><path d="M509.19,761.84 L511.70,756.00 M508.30,757.40 L511.70,756.00 L512.70,759.90"/>
<ellipse cx="438.2" cy="814.0" rx="3.2" ry="2.95"/><path d="M439.39,811.24 L441.90,805.40 M438.50,806.80 L441.90,805.40 L442.90,809.30"/>
<ellipse cx="490.9" cy="826.9" rx="3.2" ry="2.95"/><path d="M492.09,824.14 L494.60,818.30 M491.20,819.70 L494.60,818.30 L495.60,822.20"/>
<ellipse cx="517.0" cy="829.7" rx="3.2" ry="2.95"/><path d="M518.19,826.94 L520.70,821.10 M517.30,822.50 L520.70,821.10 L521.70,825.00"/>
<ellipse cx="394.7" cy="838.7" rx="3.2" ry="2.95"/><path d="M395.89,835.94 L398.40,830.10 M395.00,831.50 L398.40,830.10 L399.40,834.00"/>
<ellipse cx="499.3" cy="850.0" rx="3.2" ry="2.95"/><path d="M500.49,847.24 L503.00,841.40 M499.60,842.80 L503.00,841.40 L504.00,845.30"/>
<ellipse cx="517.0" cy="911.1" rx="3.2" ry="2.95"/><path d="M518.19,908.34 L520.70,902.50 M517.30,903.90 L520.70,902.50 L521.70,906.40"/>
<ellipse cx="464.0" cy="917.7" rx="3.2" ry="2.95"/><path d="M465.19,914.94 L467.70,909.10 M464.30,910.50 L467.70,909.10 L468.70,913.00"/>
<ellipse cx="472.5" cy="917.1" rx="3.2" ry="2.95"/><path d="M473.69,914.34 L476.20,908.50 M472.80,909.90 L476.20,908.50 L477.20,912.40"/>
<ellipse cx="472.8" cy="922.7" rx="3.2" ry="2.95"/><path d="M473.99,919.94 L476.50,914.10 M473.10,915.50 L476.50,914.10 L477.50,918.00"/>
<ellipse cx="412.4" cy="938.1" rx="3.2" ry="2.95"/><path d="M413.59,935.34 L416.10,929.50 M412.70,930.90 L416.10,929.50 L417.10,933.40"/>
<ellipse cx="464.5" cy="955.7" rx="3.2" ry="2.95"/><path d="M465.69,952.94 L468.20,947.10 M464.80,948.50 L468.20,947.10 L469.20,951.00"/>
<ellipse cx="499.3" cy="975.7" rx="3.2" ry="2.95"/><path d="M500.49,972.94 L503.00,967.10 M499.60,968.50 L503.00,967.10 L504.00,971.00"/>
<ellipse cx="430.0" cy="1007.0" rx="3.2" ry="2.95"/><path d="M431.19,1004.24 L433.70,998.40 M430.30,999.80 L433.70,998.40 L434.70,1002.30"/>
<ellipse cx="525.0" cy="998.8" rx="3.2" ry="2.95"/><path d="M526.19,996.04 L528.70,990.20 M525.30,991.60 L528.70,990.20 L529.70,994.10"/>
<ellipse cx="499.8" cy="1039.9" rx="3.2" ry="2.95"/><path d="M500.99,1037.14 L503.50,1031.30 M500.10,1032.70 L503.50,1031.30 L504.50,1035.20"/>
<ellipse cx="508.0" cy="1042.7" rx="3.2" ry="2.95"/><path d="M509.19,1039.94 L511.70,1034.10 M508.30,1035.50 L511.70,1034.10 L512.70,1038.00"/>
<ellipse cx="560.6" cy="842.7" rx="3.2" ry="2.95"/><path d="M561.79,839.94 L564.30,834.10 M560.90,835.50 L564.30,834.10 L565.30,838.00"/>
<ellipse cx="586.5" cy="870.5" rx="3.2" ry="2.95"/><path d="M587.69,867.74 L590.20,861.90 M586.80,863.30 L590.20,861.90 L591.20,865.80"/>
<ellipse cx="551.5" cy="905.7" rx="3.2" ry="2.95"/><path d="M552.69,902.94 L555.20,897.10 M551.80,898.50 L555.20,897.10 L556.20,901.00"/>
<ellipse cx="595.2" cy="923.6" rx="3.2" ry="2.95"/><path d="M596.39,920.84 L598.90,915.00 M595.50,916.40 L598.90,915.00 L599.90,918.90"/>
<ellipse cx="603.8" cy="927.9" rx="3.2" ry="2.95"/><path d="M604.99,925.14 L607.50,919.30 M604.10,920.70 L607.50,919.30 L608.50,923.20"/>
<ellipse cx="534.3" cy="951.5" rx="3.2" ry="2.95"/><path d="M535.49,948.74 L538.00,942.90 M534.60,944.30 L538.00,942.90 L539.00,946.80"/>
<ellipse cx="560.0" cy="949.5" rx="3.2" ry="2.95"/><path d="M561.19,946.74 L563.70,940.90 M560.30,942.30 L563.70,940.90 L564.70,944.80"/>
<ellipse cx="595.2" cy="1014.1" rx="3.2" ry="2.95"/><path d="M596.39,1011.34 L598.90,1005.50 M595.50,1006.90 L598.90,1005.50 L599.90,1009.40"/>
</g>
<line x1="427" y1="1156.4" x2="457" y2="1156.4" stroke="#0b640b" stroke-width="1.4"/>
<line x1="427.5" y1="1176.0" x2="457" y2="1176.0" stroke="#d81e2e" stroke-width="1.4" stroke-dasharray="2.3 3.05"/>
<line x1="427" y1="1195.8" x2="457" y2="1195.8" stroke="#2424c4" stroke-width="1.4" stroke-dasharray="6.3 4.6"/>
<text x="471.2" y="1162.1" class="lab">sliding mean for all data</text>
<text x="471.2" y="1182.0" class="lab">95% CI for females</text>
<text x="471.2" y="1201.9" class="lab">95% CI for males</text>
<rect x="86.7" y="723.1" width="564.6" height="505.9" class="ax" fill="none"/>
</svg>
</body></html>
